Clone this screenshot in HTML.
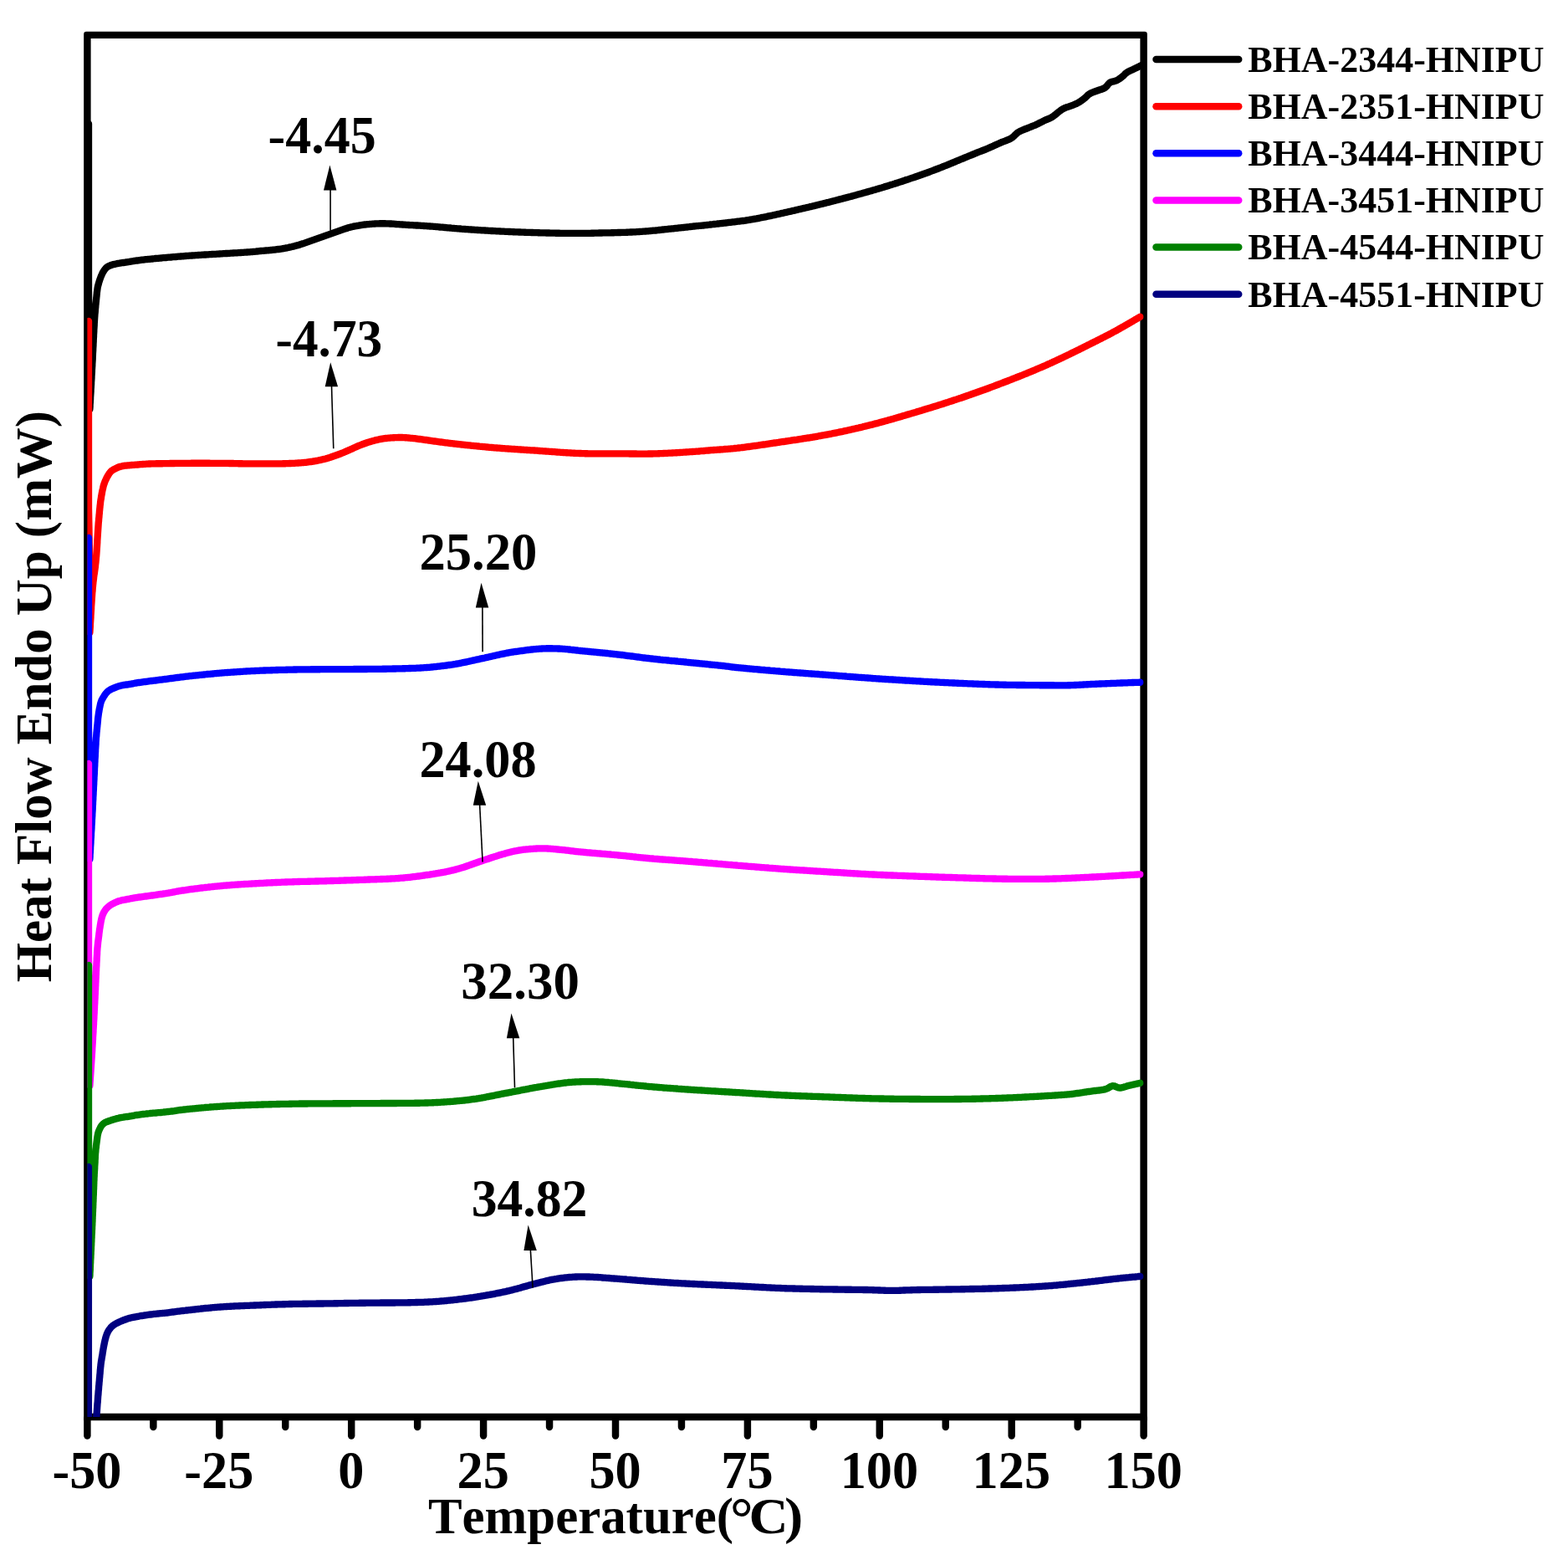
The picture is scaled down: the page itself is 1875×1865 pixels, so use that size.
<!DOCTYPE html>
<html lang="en">
<head>
<meta charset="utf-8">
<title>DSC heat flow curves of BHA HNIPU samples</title>
<style>
html,body{margin:0;padding:0;background:#fff;}
body{width:1875px;height:1865px;overflow:hidden;}
svg{display:block;}
text{font-family:'Liberation Serif',serif;font-weight:bold;fill:#000;font-kerning:none;font-variant-ligatures:none;}
.tick{font-size:62.30px;text-anchor:middle;}
.ann{font-size:62.30px;}
.leg{font-size:44.30px;}
.ttl{font-size:61.30px;}
.crv{fill:none;stroke-width:8.35;stroke-linecap:round;stroke-linejoin:round;}
.ax{fill:none;stroke:#000;stroke-width:8.45;stroke-linecap:round;stroke-linejoin:round;}
.arr{stroke:#000;stroke-width:1.6;fill:none;}
</style>
</head>
<body>
<svg width="1875" height="1865" viewBox="0 0 1875 1865">
<rect x="0" y="0" width="1875" height="1865" fill="#ffffff"/>
<defs><clipPath id="plot"><rect x="104.40" y="41.90" width="1263.20" height="1652.10"/></clipPath></defs>
<g class="ax">
<path fill="#000" stroke="none" fill-rule="evenodd" d="M100.18 1698.22 L100.18 40.67 Q100.18 37.67 103.18 37.67 L1368.82 37.67 Q1371.82 37.67 1371.82 40.67 L1371.82 1698.22 Z M108.62 46.12 L108.62 1689.78 L1363.38 1689.78 L1363.38 46.12 Z"/>
<line x1="104.40" y1="1695.50" x2="104.40" y2="1716.60"/>
<line x1="183.35" y1="1695.50" x2="183.35" y2="1705.90"/>
<line x1="262.30" y1="1695.50" x2="262.30" y2="1716.60"/>
<line x1="341.25" y1="1695.50" x2="341.25" y2="1705.90"/>
<line x1="420.20" y1="1695.50" x2="420.20" y2="1716.60"/>
<line x1="499.15" y1="1695.50" x2="499.15" y2="1705.90"/>
<line x1="578.10" y1="1695.50" x2="578.10" y2="1716.60"/>
<line x1="657.05" y1="1695.50" x2="657.05" y2="1705.90"/>
<line x1="736.00" y1="1695.50" x2="736.00" y2="1716.60"/>
<line x1="814.95" y1="1695.50" x2="814.95" y2="1705.90"/>
<line x1="893.90" y1="1695.50" x2="893.90" y2="1716.60"/>
<line x1="972.85" y1="1695.50" x2="972.85" y2="1705.90"/>
<line x1="1051.80" y1="1695.50" x2="1051.80" y2="1716.60"/>
<line x1="1130.75" y1="1695.50" x2="1130.75" y2="1705.90"/>
<line x1="1209.70" y1="1695.50" x2="1209.70" y2="1716.60"/>
<line x1="1288.65" y1="1695.50" x2="1288.65" y2="1705.90"/>
<line x1="1367.60" y1="1695.50" x2="1367.60" y2="1716.60"/>
</g>
<g clip-path="url(#plot)">
<path class="crv" stroke="#000000" d="M106.0 148.0 L106.0 352.6 L106.8 393.5 L107.4 489.0 L107.5 487.5 L107.6 486.0 L107.6 484.5 L107.7 483.0 L107.8 481.5 L107.9 480.0 L108.0 478.5 L108.1 477.0 L108.1 475.5 L108.2 474.0 L108.3 472.5 L108.4 471.0 L108.5 469.5 L108.6 468.0 L108.6 466.5 L108.7 465.0 L108.8 463.5 L108.9 462.0 L109.0 460.5 L109.1 459.0 L109.1 457.5 L109.2 456.0 L109.3 454.5 L109.4 453.1 L109.5 451.6 L109.5 450.1 L109.6 448.6 L109.7 447.1 L109.8 445.6 L109.9 444.1 L109.9 442.6 L110.0 441.1 L110.1 439.6 L110.2 438.1 L110.3 436.6 L110.3 435.1 L110.4 433.6 L110.5 432.1 L110.6 430.6 L110.7 429.1 L110.7 427.6 L110.8 426.1 L110.9 424.6 L110.9 423.1 L111.0 421.6 L111.1 420.1 L111.2 418.6 L111.2 417.1 L111.3 415.6 L111.4 414.1 L111.5 412.6 L111.5 411.1 L111.6 409.6 L111.7 408.1 L111.7 406.6 L111.8 405.1 L111.9 403.6 L112.0 402.1 L112.0 400.6 L112.1 399.1 L112.2 397.6 L112.3 396.1 L112.3 394.6 L112.4 393.1 L112.5 391.6 L112.6 390.1 L112.7 388.6 L112.7 387.1 L112.8 385.6 L112.9 384.1 L113.0 382.6 L113.1 381.1 L113.2 379.6 L113.3 378.1 L113.4 376.7 L113.5 375.2 L113.7 373.7 L113.8 372.2 L113.9 370.7 L114.0 369.2 L114.2 367.7 L114.3 366.2 L114.4 364.7 L114.6 363.2 L114.7 361.7 L114.9 360.2 L115.0 358.7 L115.2 357.2 L115.3 355.7 L115.5 354.2 L115.6 352.8 L115.8 351.3 L115.9 349.8 L116.1 348.3 L116.3 346.8 L116.5 345.3 L116.7 343.8 L117.0 342.4 L117.4 340.9 L117.8 339.5 L118.2 338.0 L118.6 336.6 L119.1 335.1 L119.6 333.7 L120.1 332.3 L120.6 330.9 L121.2 329.5 L121.8 328.2 L122.4 326.8 L123.1 325.5 L123.9 324.2 L124.7 322.9 L125.6 321.7 L126.5 320.7 L127.6 319.7 L128.8 318.8 L130.1 318.1 L131.5 317.5 L132.9 317.0 L134.3 316.5 L135.7 316.1 L137.2 315.8 L138.7 315.5 L140.1 315.2 L141.6 314.9 L143.1 314.7 L144.6 314.4 L146.1 314.2 L147.5 314.0 L149.0 313.8 L150.5 313.5 L152.0 313.3 L153.5 313.1 L155.0 312.9 L156.4 312.6 L157.9 312.4 L159.4 312.2 L160.9 311.9 L162.4 311.7 L163.9 311.5 L165.3 311.3 L166.8 311.1 L168.3 310.9 L169.8 310.7 L171.3 310.6 L172.8 310.4 L174.3 310.2 L175.8 310.1 L177.3 309.9 L178.8 309.8 L180.3 309.6 L181.7 309.5 L183.2 309.3 L184.7 309.2 L186.2 309.0 L187.7 308.9 L189.2 308.8 L190.7 308.6 L192.2 308.5 L193.7 308.3 L195.2 308.2 L196.7 308.1 L198.2 308.0 L199.7 307.8 L201.2 307.7 L202.7 307.6 L204.2 307.5 L205.6 307.3 L207.1 307.2 L208.6 307.1 L210.1 307.0 L211.6 306.8 L213.1 306.7 L214.6 306.6 L216.1 306.5 L217.6 306.4 L219.1 306.3 L220.6 306.1 L222.1 306.0 L223.6 305.9 L225.1 305.8 L226.6 305.7 L228.1 305.6 L229.6 305.5 L231.1 305.4 L232.6 305.3 L234.1 305.2 L235.6 305.1 L237.1 305.0 L238.6 304.9 L240.1 304.8 L241.6 304.7 L243.1 304.6 L244.6 304.5 L246.0 304.5 L247.5 304.4 L249.0 304.3 L250.5 304.2 L252.0 304.1 L253.5 304.0 L255.0 303.9 L256.5 303.8 L258.0 303.8 L259.5 303.7 L261.0 303.6 L262.5 303.5 L264.0 303.4 L265.5 303.3 L267.0 303.2 L268.5 303.1 L270.0 303.0 L271.5 303.0 L273.0 302.9 L274.5 302.8 L276.0 302.7 L277.5 302.6 L279.0 302.5 L280.5 302.4 L282.0 302.3 L283.5 302.3 L285.0 302.2 L286.5 302.1 L288.0 302.0 L289.5 301.9 L291.0 301.8 L292.5 301.7 L294.0 301.6 L295.5 301.5 L297.0 301.4 L298.5 301.3 L300.0 301.2 L301.5 301.1 L302.9 300.9 L304.4 300.8 L305.9 300.7 L307.4 300.5 L308.9 300.4 L310.4 300.2 L311.9 300.0 L313.4 299.9 L314.9 299.8 L316.4 299.6 L317.9 299.5 L319.4 299.4 L320.9 299.3 L322.4 299.1 L323.9 299.0 L325.4 298.9 L326.8 298.7 L328.3 298.6 L329.8 298.4 L331.3 298.2 L332.8 298.0 L334.3 297.8 L335.8 297.6 L337.3 297.4 L338.7 297.1 L340.2 296.8 L341.7 296.5 L343.1 296.3 L344.6 296.0 L346.1 295.6 L347.5 295.3 L349.0 295.0 L350.5 294.6 L351.9 294.3 L353.4 293.9 L354.8 293.5 L356.3 293.1 L357.7 292.7 L359.1 292.2 L360.6 291.8 L362.0 291.3 L363.4 290.9 L364.9 290.4 L366.3 289.9 L367.7 289.4 L369.1 288.9 L370.5 288.4 L371.9 287.9 L373.3 287.4 L374.8 286.9 L376.2 286.4 L377.6 285.9 L379.0 285.4 L380.4 284.9 L381.8 284.4 L383.3 283.9 L384.7 283.4 L386.1 282.9 L387.5 282.4 L388.9 281.9 L390.3 281.4 L391.7 280.9 L393.2 280.4 L394.6 279.9 L396.0 279.4 L397.4 278.9 L398.8 278.4 L400.2 277.9 L401.6 277.4 L403.1 276.9 L404.5 276.4 L405.9 275.9 L407.3 275.4 L408.7 274.9 L410.1 274.4 L411.5 273.9 L412.9 273.4 L414.4 273.0 L415.8 272.5 L417.2 272.1 L418.7 271.7 L420.1 271.3 L421.6 271.0 L423.1 270.6 L424.5 270.3 L426.0 270.1 L427.5 269.8 L429.0 269.6 L430.4 269.3 L431.9 269.1 L433.4 268.9 L434.9 268.7 L436.4 268.5 L437.9 268.4 L439.4 268.2 L440.9 268.1 L442.4 267.9 L443.9 267.8 L445.4 267.7 L446.8 267.6 L448.3 267.5 L449.8 267.4 L451.3 267.3 L452.8 267.3 L454.3 267.2 L455.8 267.2 L457.3 267.2 L458.8 267.2 L460.3 267.2 L461.8 267.3 L463.3 267.3 L464.8 267.4 L466.3 267.5 L467.8 267.5 L469.3 267.6 L470.8 267.7 L472.3 267.8 L473.8 268.0 L475.3 268.1 L476.8 268.2 L478.3 268.3 L479.8 268.4 L481.3 268.5 L482.8 268.6 L484.3 268.7 L485.8 268.8 L487.3 268.9 L488.8 269.0 L490.3 269.1 L491.8 269.1 L493.3 269.2 L494.8 269.3 L496.3 269.4 L497.8 269.5 L499.3 269.5 L500.8 269.6 L502.3 269.7 L503.8 269.8 L505.3 269.9 L506.8 270.0 L508.3 270.1 L509.8 270.2 L511.2 270.3 L512.7 270.4 L514.2 270.5 L515.7 270.6 L517.2 270.7 L518.7 270.8 L520.2 270.9 L521.7 271.1 L523.2 271.2 L524.7 271.3 L526.2 271.5 L527.7 271.6 L529.2 271.7 L530.7 271.9 L532.2 272.0 L533.7 272.1 L535.2 272.3 L536.7 272.4 L538.2 272.5 L539.7 272.7 L541.1 272.8 L542.6 272.9 L544.1 273.1 L545.6 273.2 L547.1 273.3 L548.6 273.4 L550.1 273.5 L551.6 273.7 L553.1 273.8 L554.6 273.9 L556.1 274.0 L557.6 274.1 L559.1 274.2 L560.6 274.3 L562.1 274.4 L563.6 274.5 L565.1 274.6 L566.6 274.7 L568.1 274.8 L569.6 274.9 L571.1 275.0 L572.6 275.1 L574.1 275.2 L575.6 275.3 L577.1 275.4 L578.6 275.4 L580.1 275.5 L581.5 275.6 L583.0 275.7 L584.5 275.8 L586.0 275.9 L587.5 276.0 L589.0 276.0 L590.5 276.1 L592.0 276.2 L593.5 276.3 L595.0 276.3 L596.5 276.4 L598.0 276.5 L599.5 276.6 L601.0 276.6 L602.5 276.7 L604.0 276.8 L605.5 276.8 L607.0 276.9 L608.5 277.0 L610.0 277.0 L611.5 277.1 L613.0 277.2 L614.5 277.2 L616.0 277.3 L617.5 277.3 L619.0 277.4 L620.5 277.5 L622.0 277.5 L623.5 277.6 L625.0 277.6 L626.5 277.7 L628.0 277.7 L629.5 277.8 L631.0 277.8 L632.5 277.9 L634.0 277.9 L635.5 278.0 L637.0 278.0 L638.5 278.1 L640.0 278.1 L641.5 278.1 L643.0 278.2 L644.5 278.2 L646.0 278.3 L647.5 278.3 L649.0 278.3 L650.5 278.4 L652.0 278.4 L653.5 278.5 L655.0 278.5 L656.5 278.5 L658.0 278.6 L659.5 278.6 L661.0 278.6 L662.5 278.6 L664.0 278.7 L665.5 278.7 L667.0 278.7 L668.5 278.7 L670.0 278.8 L671.5 278.8 L673.0 278.8 L674.5 278.8 L676.0 278.8 L677.5 278.9 L679.0 278.9 L680.5 278.9 L682.0 278.9 L683.5 278.9 L685.0 278.9 L686.5 278.9 L688.0 278.9 L689.5 278.9 L691.0 278.9 L692.5 278.9 L694.0 278.9 L695.5 278.9 L697.0 278.9 L698.5 278.9 L700.0 278.8 L701.5 278.8 L703.0 278.8 L704.5 278.8 L706.0 278.8 L707.5 278.7 L709.0 278.7 L710.5 278.7 L712.0 278.6 L713.5 278.6 L715.0 278.6 L716.5 278.5 L718.0 278.5 L719.5 278.5 L721.0 278.4 L722.5 278.4 L724.0 278.4 L725.5 278.4 L727.0 278.3 L728.5 278.3 L730.0 278.3 L731.5 278.2 L733.0 278.2 L734.5 278.2 L736.0 278.1 L737.5 278.1 L739.0 278.0 L740.5 278.0 L742.0 278.0 L743.5 277.9 L745.0 277.9 L746.5 277.8 L748.0 277.8 L749.5 277.7 L751.0 277.7 L752.5 277.6 L754.0 277.5 L755.5 277.5 L757.0 277.4 L758.5 277.3 L760.0 277.3 L761.5 277.2 L763.0 277.1 L764.5 277.0 L766.0 276.9 L767.5 276.8 L769.0 276.7 L770.5 276.6 L772.0 276.5 L773.4 276.4 L774.9 276.3 L776.4 276.1 L777.9 276.0 L779.4 275.9 L780.9 275.7 L782.4 275.6 L783.9 275.5 L785.4 275.3 L786.9 275.2 L788.4 275.0 L789.9 274.9 L791.4 274.7 L792.9 274.5 L794.4 274.4 L795.8 274.2 L797.3 274.1 L798.8 273.9 L800.3 273.7 L801.8 273.6 L803.3 273.4 L804.8 273.3 L806.3 273.1 L807.8 272.9 L809.3 272.8 L810.8 272.6 L812.3 272.4 L813.7 272.3 L815.2 272.1 L816.7 272.0 L818.2 271.8 L819.7 271.6 L821.2 271.5 L822.7 271.3 L824.2 271.2 L825.7 271.0 L827.2 270.9 L828.7 270.7 L830.2 270.5 L831.6 270.4 L833.1 270.2 L834.6 270.1 L836.1 269.9 L837.6 269.8 L839.1 269.6 L840.6 269.5 L842.1 269.3 L843.6 269.1 L845.1 269.0 L846.6 268.8 L848.1 268.7 L849.5 268.5 L851.0 268.3 L852.5 268.2 L854.0 268.0 L855.5 267.8 L857.0 267.7 L858.5 267.5 L860.0 267.3 L861.5 267.1 L863.0 267.0 L864.5 266.8 L865.9 266.6 L867.4 266.5 L868.9 266.3 L870.4 266.1 L871.9 265.9 L873.4 265.8 L874.9 265.6 L876.4 265.4 L877.9 265.3 L879.4 265.1 L880.8 264.9 L882.3 264.7 L883.8 264.6 L885.3 264.4 L886.8 264.2 L888.3 264.0 L889.8 263.8 L891.3 263.6 L892.7 263.3 L894.2 263.1 L895.7 262.9 L897.2 262.6 L898.7 262.4 L900.1 262.2 L901.6 261.9 L903.1 261.6 L904.6 261.4 L906.1 261.1 L907.5 260.8 L909.0 260.5 L910.5 260.2 L911.9 259.9 L913.4 259.7 L914.9 259.4 L916.4 259.1 L917.8 258.7 L919.3 258.4 L920.8 258.1 L922.2 257.8 L923.7 257.5 L925.2 257.2 L926.6 256.9 L928.1 256.5 L929.6 256.2 L931.0 255.9 L932.5 255.6 L933.9 255.2 L935.4 254.9 L936.9 254.6 L938.3 254.2 L939.8 253.9 L941.3 253.6 L942.7 253.2 L944.2 252.9 L945.6 252.6 L947.1 252.2 L948.6 251.9 L950.0 251.6 L951.5 251.2 L953.0 250.9 L954.4 250.5 L955.9 250.2 L957.3 249.9 L958.8 249.5 L960.3 249.2 L961.7 248.8 L963.2 248.5 L964.6 248.2 L966.1 247.8 L967.6 247.5 L969.0 247.1 L970.5 246.8 L971.9 246.4 L973.4 246.1 L974.9 245.7 L976.3 245.4 L977.8 245.0 L979.2 244.7 L980.7 244.3 L982.1 243.9 L983.6 243.6 L985.1 243.2 L986.5 242.9 L988.0 242.5 L989.4 242.1 L990.9 241.8 L992.3 241.4 L993.8 241.0 L995.2 240.7 L996.7 240.3 L998.1 239.9 L999.6 239.5 L1001.1 239.2 L1002.5 238.8 L1004.0 238.4 L1005.4 238.0 L1006.9 237.7 L1008.3 237.3 L1009.8 236.9 L1011.2 236.5 L1012.7 236.1 L1014.1 235.7 L1015.6 235.3 L1017.0 235.0 L1018.5 234.6 L1019.9 234.2 L1021.4 233.8 L1022.8 233.4 L1024.3 233.0 L1025.7 232.6 L1027.1 232.2 L1028.6 231.8 L1030.0 231.4 L1031.5 231.0 L1032.9 230.6 L1034.4 230.2 L1035.8 229.8 L1037.3 229.4 L1038.7 229.0 L1040.1 228.6 L1041.6 228.2 L1043.0 227.7 L1044.5 227.3 L1045.9 226.9 L1047.4 226.5 L1048.8 226.1 L1050.2 225.6 L1051.7 225.2 L1053.1 224.8 L1054.5 224.4 L1056.0 223.9 L1057.4 223.5 L1058.8 223.0 L1060.3 222.6 L1061.7 222.2 L1063.1 221.7 L1064.6 221.3 L1066.0 220.8 L1067.4 220.4 L1068.9 219.9 L1070.3 219.5 L1071.7 219.0 L1073.2 218.6 L1074.6 218.1 L1076.0 217.6 L1077.4 217.2 L1078.9 216.7 L1080.3 216.2 L1081.7 215.8 L1083.1 215.3 L1084.6 214.8 L1086.0 214.4 L1087.4 213.9 L1088.8 213.4 L1090.3 212.9 L1091.7 212.4 L1093.1 212.0 L1094.5 211.5 L1095.9 211.0 L1097.4 210.5 L1098.8 210.0 L1100.2 209.5 L1101.6 209.0 L1103.0 208.5 L1104.4 208.0 L1105.8 207.5 L1107.3 207.0 L1108.7 206.5 L1110.1 206.0 L1111.5 205.5 L1112.9 204.9 L1114.3 204.4 L1115.7 203.9 L1117.1 203.3 L1118.5 202.8 L1119.9 202.3 L1121.3 201.7 L1122.7 201.2 L1124.1 200.6 L1125.5 200.1 L1126.9 199.5 L1128.3 199.0 L1129.7 198.4 L1131.1 197.9 L1132.5 197.3 L1133.8 196.7 L1135.2 196.2 L1136.6 195.6 L1138.0 195.0 L1139.4 194.5 L1140.8 193.9 L1142.2 193.3 L1143.6 192.7 L1144.9 192.2 L1146.3 191.6 L1147.7 191.0 L1149.1 190.4 L1150.5 189.9 L1151.9 189.3 L1153.3 188.7 L1154.6 188.1 L1156.0 187.6 L1157.4 187.0 L1158.8 186.4 L1160.2 185.9 L1161.6 185.3 L1163.0 184.7 L1164.4 184.2 L1165.7 183.6 L1167.1 183.0 L1168.5 182.5 L1169.9 181.9 L1171.3 181.4 L1172.7 180.9 L1174.1 180.3 L1175.5 179.8 L1176.9 179.2 L1178.3 178.7 L1179.7 178.1 L1181.1 177.5 L1182.5 176.9 L1183.8 176.3 L1185.2 175.7 L1186.6 175.1 L1187.9 174.5 L1189.3 173.8 L1190.7 173.2 L1192.0 172.6 L1193.4 172.0 L1194.8 171.4 L1196.1 170.8 L1197.5 170.2 L1198.9 169.6 L1200.3 169.1 L1201.7 168.6 L1203.1 168.0 L1204.5 167.5 L1205.9 166.9 L1207.3 166.3 L1208.6 165.6 L1209.9 164.8 L1211.1 164.0 L1212.2 163.0 L1213.3 161.9 L1214.3 160.8 L1215.4 159.8 L1216.5 158.8 L1217.8 158.0 L1219.1 157.2 L1220.4 156.6 L1221.8 156.0 L1223.2 155.4 L1224.6 154.8 L1226.0 154.3 L1227.4 153.8 L1228.8 153.2 L1230.1 152.6 L1231.5 152.1 L1232.9 151.5 L1234.3 151.0 L1235.7 150.4 L1237.1 149.9 L1238.5 149.3 L1239.9 148.6 L1241.2 148.0 L1242.5 147.3 L1243.9 146.6 L1245.2 146.0 L1246.6 145.3 L1247.9 144.6 L1249.2 143.9 L1250.6 143.3 L1252.0 142.8 L1253.4 142.2 L1254.8 141.6 L1256.1 141.0 L1257.5 140.3 L1258.7 139.5 L1260.0 138.6 L1261.1 137.7 L1262.3 136.8 L1263.4 135.8 L1264.6 134.9 L1265.8 133.9 L1267.0 133.0 L1268.2 132.1 L1269.4 131.2 L1270.7 130.4 L1272.0 129.7 L1273.3 129.1 L1274.7 128.5 L1276.1 128.1 L1277.6 127.6 L1279.0 127.1 L1280.4 126.6 L1281.8 126.1 L1283.2 125.6 L1284.6 125.0 L1286.0 124.4 L1287.4 123.8 L1288.7 123.1 L1290.0 122.4 L1291.3 121.6 L1292.5 120.8 L1293.7 119.9 L1295.0 119.0 L1296.1 118.1 L1297.3 117.2 L1298.4 116.1 L1299.5 115.1 L1300.5 114.0 L1301.7 113.0 L1302.9 112.2 L1304.2 111.5 L1305.6 110.8 L1306.9 110.3 L1308.4 109.8 L1309.8 109.3 L1311.2 108.8 L1312.6 108.3 L1314.0 107.8 L1315.4 107.3 L1316.9 106.9 L1318.3 106.3 L1319.7 105.8 L1321.0 105.1 L1322.2 104.2 L1323.3 103.2 L1324.2 102.0 L1325.1 100.8 L1326.1 99.7 L1327.2 98.8 L1328.5 98.1 L1329.9 97.7 L1331.4 97.4 L1332.9 97.0 L1334.3 96.6 L1335.7 96.0 L1337.0 95.2 L1338.2 94.4 L1339.5 93.6 L1340.7 92.7 L1341.8 91.8 L1343.0 90.8 L1344.1 89.8 L1345.1 88.7 L1346.2 87.7 L1347.4 86.8 L1348.7 85.9 L1350.0 85.2 L1351.3 84.6 L1352.7 84.0 L1354.1 83.4 L1355.4 82.8 L1356.8 82.1 L1358.1 81.4 L1359.5 80.8 L1360.8 80.1 L1362.2 79.5 L1363.5 78.8 L1364.9 78.2 L1366.2 77.5 L1367.6 76.9"/>
<path class="crv" stroke="#ff0000" d="M106.0 384.0 L106.0 607.2 L106.8 651.8 L107.4 756.0 L107.5 754.5 L107.6 753.0 L107.7 751.5 L107.8 750.0 L107.9 748.5 L107.9 747.0 L108.0 745.5 L108.1 744.0 L108.2 742.5 L108.3 741.0 L108.4 739.5 L108.5 738.0 L108.5 736.5 L108.6 735.0 L108.7 733.5 L108.8 732.0 L108.9 730.5 L109.0 729.0 L109.1 727.5 L109.1 726.0 L109.2 724.5 L109.3 723.0 L109.4 721.6 L109.5 720.1 L109.6 718.6 L109.7 717.1 L109.8 715.6 L109.9 714.1 L110.0 712.6 L110.1 711.1 L110.2 709.6 L110.3 708.1 L110.5 706.6 L110.6 705.1 L110.7 703.6 L110.8 702.1 L111.0 700.6 L111.1 699.1 L111.3 697.6 L111.4 696.1 L111.6 694.6 L111.8 693.1 L112.0 691.7 L112.1 690.2 L112.3 688.7 L112.5 687.2 L112.8 685.7 L113.0 684.2 L113.2 682.7 L113.4 681.2 L113.6 679.8 L113.8 678.3 L114.0 676.8 L114.1 675.3 L114.3 673.8 L114.5 672.3 L114.6 670.8 L114.8 669.3 L114.9 667.8 L115.0 666.3 L115.2 664.8 L115.3 663.3 L115.4 661.9 L115.5 660.4 L115.6 658.9 L115.7 657.4 L115.8 655.9 L115.9 654.4 L116.0 652.9 L116.1 651.4 L116.2 649.9 L116.3 648.4 L116.3 646.9 L116.4 645.4 L116.5 643.9 L116.6 642.4 L116.7 640.9 L116.8 639.4 L116.9 637.9 L117.0 636.4 L117.1 634.9 L117.2 633.4 L117.3 631.9 L117.4 630.4 L117.5 628.9 L117.6 627.4 L117.7 625.9 L117.8 624.4 L118.0 622.9 L118.1 621.4 L118.2 619.9 L118.4 618.4 L118.5 617.0 L118.6 615.5 L118.8 614.0 L118.9 612.5 L119.0 611.0 L119.2 609.5 L119.3 608.0 L119.5 606.5 L119.6 605.0 L119.8 603.5 L120.0 602.0 L120.1 600.5 L120.3 599.0 L120.5 597.6 L120.8 596.1 L121.0 594.6 L121.2 593.1 L121.5 591.6 L121.8 590.2 L122.0 588.7 L122.3 587.2 L122.6 585.7 L123.0 584.3 L123.3 582.8 L123.6 581.4 L124.0 579.9 L124.5 578.5 L125.0 577.1 L125.5 575.7 L126.1 574.3 L126.8 572.9 L127.4 571.6 L128.1 570.3 L128.8 569.0 L129.6 567.7 L130.4 566.4 L131.2 565.2 L132.2 564.1 L133.2 563.0 L134.4 562.2 L135.7 561.4 L137.0 560.7 L138.3 560.1 L139.7 559.4 L141.0 558.8 L142.4 558.3 L143.9 557.8 L145.3 557.5 L146.8 557.2 L148.2 556.9 L149.7 556.7 L151.2 556.6 L152.7 556.4 L154.2 556.3 L155.7 556.1 L157.2 556.0 L158.7 555.9 L160.2 555.8 L161.7 555.7 L163.2 555.6 L164.7 555.5 L166.2 555.4 L167.7 555.2 L169.2 555.1 L170.7 555.0 L172.2 554.9 L173.7 554.8 L175.2 554.7 L176.7 554.6 L178.2 554.5 L179.6 554.5 L181.1 554.4 L182.6 554.3 L184.1 554.3 L185.6 554.3 L187.1 554.2 L188.6 554.2 L190.1 554.2 L191.6 554.2 L193.1 554.2 L194.6 554.2 L196.1 554.1 L197.6 554.1 L199.1 554.1 L200.6 554.1 L202.1 554.1 L203.6 554.0 L205.1 554.0 L206.6 554.0 L208.2 554.0 L209.7 553.9 L211.2 553.9 L212.7 553.9 L214.2 553.9 L215.7 553.8 L217.2 553.8 L218.7 553.8 L220.2 553.8 L221.7 553.8 L223.2 553.8 L224.7 553.8 L226.2 553.8 L227.7 553.8 L229.2 553.7 L230.7 553.7 L232.2 553.7 L233.7 553.7 L235.2 553.7 L236.7 553.7 L238.2 553.7 L239.7 553.7 L241.2 553.7 L242.7 553.7 L244.2 553.7 L245.7 553.7 L247.2 553.7 L248.7 553.7 L250.2 553.7 L251.7 553.8 L253.2 553.8 L254.7 553.8 L256.2 553.8 L257.7 553.8 L259.2 553.8 L260.7 553.8 L262.2 553.8 L263.7 553.8 L265.2 553.8 L266.7 553.9 L268.2 553.9 L269.7 553.9 L271.2 553.9 L272.7 553.9 L274.2 554.0 L275.7 554.0 L277.2 554.0 L278.7 554.0 L280.2 554.1 L281.7 554.1 L283.2 554.1 L284.7 554.2 L286.2 554.2 L287.7 554.2 L289.2 554.2 L290.7 554.3 L292.2 554.3 L293.7 554.3 L295.2 554.3 L296.7 554.3 L298.2 554.4 L299.7 554.4 L301.2 554.4 L302.7 554.4 L304.2 554.4 L305.7 554.4 L307.2 554.4 L308.7 554.4 L310.2 554.4 L311.7 554.4 L313.2 554.4 L314.7 554.4 L316.2 554.4 L317.7 554.4 L319.2 554.4 L320.7 554.4 L322.2 554.4 L323.7 554.4 L325.2 554.4 L326.7 554.4 L328.2 554.4 L329.7 554.4 L331.2 554.4 L332.7 554.3 L334.2 554.3 L335.7 554.3 L337.2 554.3 L338.7 554.2 L340.2 554.2 L341.7 554.2 L343.2 554.1 L344.7 554.1 L346.2 554.0 L347.7 554.0 L349.2 553.9 L350.7 553.9 L352.2 553.8 L353.7 553.7 L355.2 553.6 L356.7 553.5 L358.2 553.4 L359.7 553.3 L361.2 553.2 L362.6 553.1 L364.1 552.9 L365.6 552.8 L367.1 552.6 L368.6 552.4 L370.1 552.2 L371.6 552.0 L373.1 551.8 L374.5 551.5 L376.0 551.3 L377.5 551.0 L379.0 550.8 L380.5 550.5 L381.9 550.2 L383.4 549.9 L384.9 549.5 L386.3 549.2 L387.8 548.8 L389.2 548.5 L390.7 548.1 L392.1 547.6 L393.6 547.2 L395.0 546.8 L396.4 546.3 L397.8 545.8 L399.2 545.3 L400.7 544.8 L402.1 544.3 L403.5 543.8 L404.9 543.3 L406.3 542.7 L407.7 542.2 L409.1 541.6 L410.5 541.1 L411.9 540.5 L413.2 539.9 L414.6 539.3 L416.0 538.8 L417.4 538.1 L418.7 537.5 L420.1 536.9 L421.5 536.3 L422.8 535.6 L424.2 535.0 L425.6 534.4 L426.9 533.8 L428.3 533.2 L429.7 532.6 L431.1 532.1 L432.5 531.5 L433.9 531.0 L435.3 530.5 L436.7 530.0 L438.1 529.5 L439.6 529.0 L441.0 528.6 L442.4 528.1 L443.9 527.7 L445.3 527.3 L446.7 526.9 L448.2 526.5 L449.6 526.1 L451.1 525.8 L452.6 525.5 L454.0 525.2 L455.5 524.9 L457.0 524.6 L458.5 524.4 L460.0 524.2 L461.4 524.0 L462.9 523.8 L464.4 523.7 L465.9 523.6 L467.4 523.4 L468.9 523.3 L470.4 523.2 L471.9 523.2 L473.4 523.1 L474.9 523.1 L476.4 523.0 L477.9 523.0 L479.4 523.0 L480.9 523.0 L482.4 523.1 L483.9 523.2 L485.4 523.2 L486.9 523.4 L488.4 523.5 L489.9 523.6 L491.4 523.8 L492.9 523.9 L494.4 524.1 L495.9 524.2 L497.3 524.4 L498.8 524.6 L500.3 524.8 L501.8 525.0 L503.3 525.2 L504.8 525.4 L506.3 525.6 L507.8 525.8 L509.2 526.0 L510.7 526.2 L512.2 526.5 L513.7 526.7 L515.2 526.9 L516.7 527.1 L518.2 527.3 L519.6 527.5 L521.1 527.7 L522.6 527.9 L524.1 528.1 L525.6 528.3 L527.1 528.5 L528.6 528.7 L530.1 528.9 L531.5 529.1 L533.0 529.3 L534.5 529.4 L536.0 529.6 L537.5 529.8 L539.0 530.0 L540.5 530.1 L542.0 530.3 L543.5 530.5 L545.0 530.6 L546.4 530.8 L547.9 531.0 L549.4 531.1 L550.9 531.3 L552.4 531.5 L553.9 531.6 L555.4 531.8 L556.9 532.0 L558.4 532.1 L559.9 532.3 L561.4 532.4 L562.9 532.6 L564.3 532.8 L565.8 532.9 L567.3 533.1 L568.8 533.2 L570.3 533.4 L571.8 533.5 L573.3 533.7 L574.8 533.8 L576.3 533.9 L577.8 534.1 L579.3 534.2 L580.8 534.4 L582.3 534.5 L583.8 534.6 L585.3 534.8 L586.7 534.9 L588.2 535.0 L589.7 535.1 L591.2 535.3 L592.7 535.4 L594.2 535.5 L595.7 535.6 L597.2 535.7 L598.7 535.9 L600.2 536.0 L601.7 536.1 L603.2 536.2 L604.7 536.3 L606.2 536.4 L607.7 536.5 L609.2 536.6 L610.7 536.7 L612.2 536.8 L613.7 536.9 L615.2 537.0 L616.7 537.1 L618.2 537.2 L619.7 537.3 L621.2 537.4 L622.7 537.5 L624.2 537.6 L625.7 537.7 L627.2 537.8 L628.7 537.9 L630.1 538.0 L631.6 538.1 L633.1 538.2 L634.6 538.3 L636.1 538.3 L637.6 538.4 L639.1 538.5 L640.6 538.6 L642.1 538.7 L643.6 538.9 L645.1 539.0 L646.6 539.1 L648.1 539.2 L649.6 539.3 L651.1 539.4 L652.6 539.5 L654.1 539.6 L655.6 539.7 L657.1 539.8 L658.6 539.9 L660.1 540.0 L661.6 540.1 L663.1 540.2 L664.6 540.4 L666.1 540.5 L667.6 540.6 L669.1 540.7 L670.6 540.8 L672.1 540.9 L673.6 541.0 L675.1 541.1 L676.5 541.2 L678.0 541.2 L679.5 541.3 L681.0 541.4 L682.5 541.5 L684.0 541.6 L685.5 541.7 L687.0 541.7 L688.5 541.8 L690.0 541.9 L691.5 541.9 L693.0 542.0 L694.5 542.0 L696.0 542.1 L697.5 542.1 L699.0 542.2 L700.5 542.2 L702.0 542.2 L703.5 542.3 L705.0 542.3 L706.5 542.3 L708.0 542.3 L709.5 542.3 L711.0 542.4 L712.5 542.4 L714.0 542.4 L715.5 542.4 L717.0 542.4 L718.5 542.4 L720.0 542.4 L721.5 542.4 L723.0 542.4 L724.5 542.4 L726.0 542.4 L727.5 542.4 L729.0 542.4 L730.5 542.4 L732.0 542.4 L733.5 542.4 L735.0 542.4 L736.5 542.4 L738.0 542.4 L739.5 542.4 L741.0 542.4 L742.5 542.4 L744.0 542.4 L745.5 542.4 L747.0 542.4 L748.5 542.4 L750.0 542.4 L751.5 542.4 L753.0 542.5 L754.5 542.5 L756.0 542.5 L757.5 542.5 L759.0 542.5 L760.5 542.5 L762.0 542.6 L763.5 542.6 L765.0 542.6 L766.5 542.6 L768.0 542.6 L769.5 542.6 L771.0 542.6 L772.5 542.6 L774.0 542.6 L775.5 542.5 L777.0 542.5 L778.5 542.5 L780.0 542.5 L781.5 542.4 L783.0 542.4 L784.5 542.3 L786.0 542.3 L787.5 542.2 L789.0 542.2 L790.5 542.1 L792.0 542.1 L793.5 542.0 L795.0 541.9 L796.5 541.9 L798.0 541.8 L799.5 541.7 L801.0 541.6 L802.5 541.6 L804.0 541.5 L805.5 541.4 L807.0 541.3 L808.5 541.2 L810.0 541.2 L811.5 541.1 L813.0 541.0 L814.5 540.9 L816.0 540.8 L817.5 540.7 L819.0 540.6 L820.5 540.5 L822.0 540.4 L823.5 540.3 L825.0 540.2 L826.5 540.1 L828.0 540.0 L829.5 539.9 L831.0 539.8 L832.5 539.7 L834.0 539.6 L835.5 539.5 L837.0 539.3 L838.5 539.2 L840.0 539.1 L841.5 539.0 L843.0 538.8 L844.4 538.7 L845.9 538.6 L847.4 538.5 L848.9 538.4 L850.4 538.2 L851.9 538.1 L853.4 538.0 L854.9 537.9 L856.4 537.8 L857.9 537.7 L859.4 537.6 L860.9 537.5 L862.4 537.4 L863.9 537.3 L865.4 537.2 L866.9 537.0 L868.4 536.9 L869.9 536.8 L871.4 536.7 L872.9 536.6 L874.4 536.4 L875.9 536.3 L877.4 536.2 L878.8 536.0 L880.3 535.8 L881.8 535.7 L883.3 535.5 L884.8 535.3 L886.3 535.2 L887.8 535.0 L889.3 534.8 L890.8 534.6 L892.3 534.4 L893.7 534.2 L895.2 534.0 L896.7 533.8 L898.2 533.6 L899.7 533.4 L901.2 533.2 L902.7 533.0 L904.1 532.8 L905.6 532.6 L907.1 532.4 L908.6 532.1 L910.1 531.9 L911.6 531.7 L913.1 531.5 L914.5 531.3 L916.0 531.1 L917.5 530.8 L919.0 530.6 L920.5 530.4 L922.0 530.2 L923.4 530.0 L924.9 529.7 L926.4 529.5 L927.9 529.3 L929.4 529.1 L930.9 528.9 L932.4 528.6 L933.8 528.4 L935.3 528.2 L936.8 528.0 L938.3 527.8 L939.8 527.5 L941.3 527.3 L942.7 527.1 L944.2 526.9 L945.7 526.7 L947.2 526.4 L948.7 526.2 L950.2 526.0 L951.6 525.8 L953.1 525.6 L954.6 525.3 L956.1 525.1 L957.6 524.9 L959.1 524.7 L960.5 524.4 L962.0 524.2 L963.5 524.0 L965.0 523.7 L966.5 523.5 L968.0 523.3 L969.4 523.0 L970.9 522.8 L972.4 522.5 L973.9 522.3 L975.4 522.0 L976.8 521.8 L978.3 521.5 L979.8 521.2 L981.3 521.0 L982.7 520.7 L984.2 520.4 L985.7 520.2 L987.2 519.9 L988.6 519.6 L990.1 519.3 L991.6 519.0 L993.1 518.8 L994.5 518.5 L996.0 518.2 L997.5 517.9 L998.9 517.6 L1000.4 517.3 L1001.9 517.0 L1003.4 516.7 L1004.8 516.4 L1006.3 516.1 L1007.8 515.8 L1009.2 515.4 L1010.7 515.1 L1012.2 514.8 L1013.6 514.5 L1015.1 514.2 L1016.6 513.8 L1018.0 513.5 L1019.5 513.2 L1020.9 512.8 L1022.4 512.5 L1023.9 512.2 L1025.3 511.8 L1026.8 511.5 L1028.3 511.1 L1029.7 510.8 L1031.2 510.5 L1032.6 510.1 L1034.1 509.7 L1035.5 509.4 L1037.0 509.0 L1038.5 508.7 L1039.9 508.3 L1041.4 507.9 L1042.8 507.6 L1044.3 507.2 L1045.7 506.8 L1047.2 506.4 L1048.6 506.1 L1050.1 505.7 L1051.5 505.3 L1053.0 504.9 L1054.4 504.5 L1055.9 504.1 L1057.3 503.7 L1058.8 503.3 L1060.2 502.9 L1061.7 502.5 L1063.1 502.1 L1064.6 501.7 L1066.0 501.3 L1067.4 500.9 L1068.9 500.5 L1070.3 500.1 L1071.8 499.6 L1073.2 499.2 L1074.6 498.8 L1076.1 498.4 L1077.5 498.0 L1079.0 497.5 L1080.4 497.1 L1081.8 496.7 L1083.3 496.3 L1084.7 495.8 L1086.2 495.4 L1087.6 495.0 L1089.0 494.6 L1090.5 494.1 L1091.9 493.7 L1093.4 493.3 L1094.8 492.9 L1096.2 492.4 L1097.7 492.0 L1099.1 491.6 L1100.5 491.1 L1102.0 490.7 L1103.4 490.3 L1104.8 489.8 L1106.3 489.4 L1107.7 488.9 L1109.2 488.5 L1110.6 488.1 L1112.0 487.6 L1113.5 487.2 L1114.9 486.7 L1116.3 486.3 L1117.8 485.9 L1119.2 485.4 L1120.6 485.0 L1122.1 484.5 L1123.5 484.1 L1124.9 483.6 L1126.3 483.2 L1127.8 482.7 L1129.2 482.2 L1130.6 481.8 L1132.1 481.3 L1133.5 480.9 L1134.9 480.4 L1136.3 479.9 L1137.8 479.5 L1139.2 479.0 L1140.6 478.5 L1142.0 478.1 L1143.5 477.6 L1144.9 477.1 L1146.3 476.6 L1147.7 476.1 L1149.2 475.7 L1150.6 475.2 L1152.0 474.7 L1153.4 474.2 L1154.8 473.7 L1156.2 473.2 L1157.7 472.7 L1159.1 472.3 L1160.5 471.8 L1161.9 471.3 L1163.3 470.8 L1164.7 470.3 L1166.2 469.8 L1167.6 469.3 L1169.0 468.8 L1170.4 468.3 L1171.8 467.8 L1173.2 467.3 L1174.6 466.7 L1176.1 466.2 L1177.5 465.7 L1178.9 465.2 L1180.3 464.7 L1181.7 464.2 L1183.1 463.7 L1184.5 463.1 L1185.9 462.6 L1187.3 462.1 L1188.7 461.6 L1190.1 461.0 L1191.5 460.5 L1192.9 460.0 L1194.3 459.5 L1195.7 458.9 L1197.1 458.4 L1198.5 457.9 L1199.9 457.3 L1201.3 456.8 L1202.7 456.2 L1204.1 455.7 L1205.5 455.2 L1206.9 454.6 L1208.3 454.1 L1209.7 453.5 L1211.1 453.0 L1212.5 452.4 L1213.9 451.9 L1215.3 451.3 L1216.7 450.8 L1218.1 450.2 L1219.5 449.7 L1220.9 449.1 L1222.3 448.6 L1223.7 448.0 L1225.1 447.4 L1226.5 446.9 L1227.9 446.3 L1229.3 445.7 L1230.6 445.2 L1232.0 444.6 L1233.4 444.0 L1234.8 443.5 L1236.2 442.9 L1237.6 442.3 L1238.9 441.7 L1240.3 441.1 L1241.7 440.5 L1243.1 439.9 L1244.5 439.4 L1245.8 438.8 L1247.2 438.2 L1248.6 437.6 L1250.0 437.0 L1251.3 436.4 L1252.7 435.7 L1254.1 435.1 L1255.5 434.5 L1256.8 433.9 L1258.2 433.3 L1259.6 432.6 L1260.9 432.0 L1262.3 431.4 L1263.6 430.8 L1265.0 430.1 L1266.4 429.5 L1267.7 428.8 L1269.1 428.2 L1270.4 427.6 L1271.8 426.9 L1273.1 426.3 L1274.5 425.6 L1275.8 425.0 L1277.2 424.3 L1278.5 423.7 L1279.9 423.0 L1281.2 422.3 L1282.6 421.7 L1283.9 421.0 L1285.3 420.4 L1286.6 419.7 L1288.0 419.0 L1289.3 418.4 L1290.7 417.7 L1292.0 417.0 L1293.3 416.4 L1294.7 415.7 L1296.0 415.0 L1297.4 414.4 L1298.7 413.7 L1300.1 413.0 L1301.4 412.3 L1302.7 411.7 L1304.1 411.0 L1305.4 410.3 L1306.8 409.7 L1308.1 409.0 L1309.5 408.3 L1310.8 407.7 L1312.1 407.0 L1313.5 406.3 L1314.8 405.6 L1316.2 405.0 L1317.5 404.3 L1318.8 403.6 L1320.2 402.9 L1321.5 402.2 L1322.8 401.5 L1324.2 400.9 L1325.5 400.2 L1326.8 399.5 L1328.2 398.8 L1329.5 398.1 L1330.8 397.3 L1332.1 396.6 L1333.4 395.9 L1334.8 395.2 L1336.1 394.5 L1337.4 393.7 L1338.7 393.0 L1340.0 392.3 L1341.3 391.5 L1342.6 390.8 L1343.9 390.1 L1345.2 389.3 L1346.5 388.6 L1347.8 387.8 L1349.1 387.1 L1350.4 386.3 L1351.7 385.6 L1353.0 384.8 L1354.3 384.1 L1355.6 383.3 L1356.9 382.5 L1358.2 381.8 L1359.5 381.0 L1360.8 380.3 L1362.1 379.5 L1363.4 378.8"/>
<path class="crv" stroke="#0000ff" d="M106.0 643.0 L106.0 873.4 L106.8 919.5 L107.4 1027.0 L107.5 1025.5 L107.6 1024.0 L107.6 1022.5 L107.7 1021.0 L107.8 1019.5 L107.9 1018.0 L108.0 1016.5 L108.1 1015.0 L108.1 1013.5 L108.2 1012.0 L108.3 1010.5 L108.4 1009.0 L108.5 1007.5 L108.5 1006.0 L108.6 1004.5 L108.7 1003.0 L108.8 1001.5 L108.9 1000.0 L109.0 998.5 L109.0 997.0 L109.1 995.5 L109.2 994.0 L109.3 992.6 L109.4 991.1 L109.5 989.6 L109.5 988.1 L109.6 986.6 L109.7 985.1 L109.8 983.6 L109.9 982.1 L109.9 980.6 L110.0 979.1 L110.1 977.6 L110.2 976.1 L110.3 974.6 L110.3 973.1 L110.4 971.6 L110.5 970.1 L110.6 968.6 L110.7 967.1 L110.7 965.6 L110.8 964.1 L110.9 962.6 L111.0 961.1 L111.0 959.6 L111.1 958.1 L111.2 956.6 L111.3 955.1 L111.3 953.6 L111.4 952.1 L111.5 950.6 L111.6 949.1 L111.6 947.6 L111.7 946.1 L111.8 944.6 L111.9 943.1 L111.9 941.6 L112.0 940.1 L112.1 938.6 L112.2 937.1 L112.2 935.6 L112.3 934.1 L112.4 932.6 L112.5 931.1 L112.5 929.6 L112.6 928.1 L112.7 926.6 L112.8 925.1 L112.8 923.6 L112.9 922.1 L113.0 920.6 L113.0 919.1 L113.1 917.6 L113.2 916.1 L113.3 914.6 L113.3 913.2 L113.4 911.7 L113.5 910.2 L113.5 908.7 L113.6 907.2 L113.7 905.7 L113.8 904.2 L113.8 902.7 L113.9 901.2 L114.0 899.7 L114.1 898.2 L114.1 896.7 L114.2 895.2 L114.3 893.7 L114.4 892.2 L114.5 890.7 L114.6 889.2 L114.6 887.7 L114.7 886.2 L114.8 884.7 L114.9 883.2 L115.0 881.7 L115.2 880.2 L115.3 878.7 L115.4 877.2 L115.5 875.7 L115.7 874.2 L115.8 872.7 L116.0 871.2 L116.1 869.7 L116.3 868.3 L116.4 866.8 L116.6 865.3 L116.7 863.8 L116.9 862.3 L117.0 860.8 L117.1 859.3 L117.3 857.8 L117.5 856.3 L117.7 854.8 L117.9 853.3 L118.1 851.9 L118.4 850.4 L118.6 848.9 L118.9 847.4 L119.2 846.0 L119.5 844.5 L119.8 843.0 L120.1 841.6 L120.5 840.1 L121.0 838.7 L121.5 837.3 L122.2 836.0 L122.9 834.7 L123.7 833.4 L124.5 832.1 L125.3 830.9 L126.1 829.6 L127.1 828.5 L128.1 827.4 L129.1 826.4 L130.3 825.5 L131.6 824.7 L132.9 824.0 L134.2 823.4 L135.6 822.8 L137.0 822.3 L138.4 821.7 L139.8 821.1 L141.2 820.6 L142.6 820.2 L144.1 819.8 L145.5 819.4 L147.0 819.2 L148.5 818.9 L150.0 818.7 L151.4 818.5 L152.9 818.3 L154.4 818.0 L155.9 817.8 L157.4 817.5 L158.8 817.3 L160.3 817.0 L161.8 816.7 L163.3 816.5 L164.7 816.2 L166.2 816.0 L167.7 815.8 L169.2 815.6 L170.7 815.4 L172.2 815.2 L173.7 815.0 L175.1 814.8 L176.6 814.6 L178.1 814.4 L179.6 814.2 L181.1 814.0 L182.6 813.8 L184.1 813.6 L185.6 813.5 L187.0 813.3 L188.5 813.1 L190.0 812.9 L191.5 812.7 L193.0 812.6 L194.5 812.4 L196.0 812.2 L197.5 812.0 L199.0 811.8 L200.4 811.6 L201.9 811.4 L203.4 811.2 L204.9 811.0 L206.4 810.8 L207.9 810.6 L209.4 810.4 L210.9 810.2 L212.3 810.0 L213.8 809.8 L215.3 809.6 L216.8 809.4 L218.3 809.3 L219.8 809.1 L221.3 808.9 L222.8 808.7 L224.2 808.6 L225.7 808.4 L227.2 808.2 L228.7 808.1 L230.2 807.9 L231.7 807.7 L233.2 807.6 L234.7 807.4 L236.2 807.3 L237.7 807.1 L239.2 806.9 L240.7 806.8 L242.1 806.6 L243.6 806.5 L245.1 806.3 L246.6 806.2 L248.1 806.0 L249.6 805.9 L251.1 805.8 L252.6 805.6 L254.1 805.5 L255.6 805.3 L257.1 805.2 L258.6 805.1 L260.1 804.9 L261.6 804.8 L263.1 804.7 L264.5 804.6 L266.0 804.4 L267.5 804.3 L269.0 804.2 L270.5 804.1 L272.0 804.0 L273.5 803.9 L275.0 803.8 L276.5 803.7 L278.0 803.6 L279.5 803.5 L281.0 803.4 L282.5 803.3 L284.0 803.2 L285.5 803.1 L287.0 803.0 L288.5 802.9 L290.0 802.8 L291.5 802.7 L293.0 802.6 L294.5 802.5 L296.0 802.4 L297.5 802.4 L299.0 802.3 L300.5 802.2 L302.0 802.1 L303.5 802.1 L305.0 802.0 L306.5 801.9 L308.0 801.8 L309.5 801.8 L311.0 801.7 L312.5 801.6 L314.0 801.6 L315.5 801.5 L317.0 801.5 L318.5 801.4 L320.0 801.4 L321.5 801.3 L323.0 801.3 L324.5 801.2 L326.0 801.2 L327.5 801.1 L328.9 801.1 L330.4 801.0 L331.9 801.0 L333.4 800.9 L334.9 800.9 L336.4 800.9 L337.9 800.8 L339.4 800.8 L340.9 800.8 L342.4 800.7 L343.9 800.7 L345.4 800.6 L346.9 800.6 L348.4 800.6 L349.9 800.6 L351.4 800.5 L352.9 800.5 L354.4 800.5 L355.9 800.4 L357.4 800.4 L358.9 800.4 L360.4 800.4 L361.9 800.4 L363.4 800.3 L364.9 800.3 L366.4 800.3 L367.9 800.3 L369.4 800.3 L370.9 800.3 L372.4 800.2 L373.9 800.2 L375.4 800.2 L376.9 800.2 L378.4 800.2 L379.9 800.2 L381.4 800.2 L382.9 800.2 L384.4 800.1 L385.9 800.1 L387.4 800.1 L388.9 800.1 L390.4 800.1 L391.9 800.1 L393.4 800.1 L394.9 800.1 L396.4 800.1 L397.9 800.1 L399.4 800.1 L400.9 800.1 L402.4 800.1 L403.9 800.1 L405.4 800.1 L406.9 800.1 L408.4 800.1 L409.9 800.1 L411.4 800.1 L412.9 800.1 L414.4 800.1 L415.9 800.1 L417.4 800.1 L418.9 800.1 L420.4 800.1 L421.9 800.1 L423.4 800.0 L424.9 800.0 L426.4 800.0 L427.9 800.0 L429.4 800.0 L430.9 800.0 L432.4 800.0 L433.9 800.0 L435.4 800.0 L436.9 800.0 L438.4 800.0 L439.9 799.9 L441.4 799.9 L442.9 799.9 L444.4 799.9 L445.9 799.9 L447.4 799.9 L448.9 799.9 L450.4 799.8 L451.9 799.8 L453.4 799.8 L454.9 799.8 L456.4 799.8 L457.9 799.7 L459.4 799.7 L460.9 799.7 L462.4 799.7 L463.9 799.6 L465.4 799.6 L466.9 799.6 L468.4 799.6 L469.9 799.5 L471.4 799.5 L472.9 799.5 L474.4 799.4 L475.9 799.4 L477.4 799.4 L478.9 799.3 L480.4 799.3 L481.9 799.2 L483.4 799.2 L484.9 799.2 L486.4 799.1 L487.9 799.1 L489.4 799.0 L490.9 799.0 L492.4 798.9 L493.9 798.9 L495.4 798.8 L496.9 798.8 L498.4 798.7 L499.9 798.6 L501.4 798.6 L502.9 798.5 L504.4 798.4 L505.9 798.3 L507.4 798.2 L508.9 798.1 L510.4 798.0 L511.9 797.9 L513.4 797.8 L514.9 797.6 L516.4 797.5 L517.9 797.4 L519.4 797.2 L520.9 797.1 L522.4 796.9 L523.8 796.7 L525.3 796.6 L526.8 796.4 L528.3 796.2 L529.8 796.0 L531.3 795.9 L532.8 795.7 L534.3 795.5 L535.8 795.2 L537.2 795.0 L538.7 794.8 L540.2 794.6 L541.7 794.4 L543.2 794.1 L544.6 793.9 L546.1 793.6 L547.6 793.3 L549.1 793.1 L550.5 792.8 L552.0 792.5 L553.5 792.2 L555.0 791.9 L556.4 791.6 L557.9 791.3 L559.4 791.0 L560.8 790.7 L562.3 790.3 L563.8 790.0 L565.2 789.7 L566.7 789.4 L568.1 789.0 L569.6 788.7 L571.1 788.4 L572.5 788.1 L574.0 787.7 L575.5 787.4 L576.9 787.1 L578.4 786.8 L579.9 786.5 L581.3 786.1 L582.8 785.8 L584.3 785.5 L585.7 785.2 L587.2 784.8 L588.7 784.5 L590.1 784.2 L591.6 783.8 L593.0 783.5 L594.5 783.2 L596.0 782.9 L597.4 782.5 L598.9 782.2 L600.4 781.9 L601.8 781.6 L603.3 781.3 L604.8 781.0 L606.3 780.7 L607.7 780.5 L609.2 780.2 L610.7 779.9 L612.2 779.7 L613.6 779.5 L615.1 779.2 L616.6 779.0 L618.1 778.8 L619.6 778.6 L621.1 778.4 L622.6 778.2 L624.0 778.0 L625.5 777.8 L627.0 777.6 L628.5 777.4 L630.0 777.2 L631.5 777.0 L633.0 776.9 L634.5 776.7 L636.0 776.5 L637.4 776.4 L638.9 776.2 L640.4 776.1 L641.9 775.9 L643.4 775.8 L644.9 775.7 L646.4 775.6 L647.9 775.5 L649.4 775.4 L650.9 775.3 L652.4 775.3 L653.9 775.2 L655.4 775.2 L656.9 775.2 L658.4 775.2 L659.9 775.2 L661.4 775.3 L662.9 775.3 L664.4 775.3 L665.9 775.4 L667.4 775.5 L668.9 775.5 L670.4 775.6 L671.9 775.7 L673.4 775.8 L674.9 775.9 L676.4 776.1 L677.9 776.2 L679.4 776.3 L680.9 776.5 L682.3 776.7 L683.8 776.8 L685.3 777.0 L686.8 777.2 L688.3 777.4 L689.8 777.5 L691.3 777.7 L692.8 777.8 L694.3 778.0 L695.8 778.1 L697.3 778.3 L698.7 778.4 L700.2 778.6 L701.7 778.7 L703.2 778.9 L704.7 779.0 L706.2 779.1 L707.7 779.3 L709.2 779.4 L710.7 779.6 L712.2 779.7 L713.7 779.8 L715.2 780.0 L716.7 780.1 L718.2 780.3 L719.7 780.4 L721.1 780.6 L722.6 780.7 L724.1 780.9 L725.6 781.0 L727.1 781.2 L728.6 781.3 L730.1 781.5 L731.6 781.6 L733.1 781.8 L734.6 782.0 L736.1 782.1 L737.6 782.3 L739.0 782.5 L740.5 782.6 L742.0 782.8 L743.5 783.0 L745.0 783.2 L746.5 783.4 L748.0 783.6 L749.5 783.8 L751.0 784.0 L752.4 784.1 L753.9 784.3 L755.4 784.5 L756.9 784.7 L758.4 784.9 L759.9 785.1 L761.4 785.3 L762.9 785.5 L764.3 785.7 L765.8 785.9 L767.3 786.1 L768.8 786.3 L770.3 786.5 L771.8 786.7 L773.3 786.9 L774.8 787.0 L776.2 787.2 L777.7 787.4 L779.2 787.5 L780.7 787.7 L782.2 787.9 L783.7 788.0 L785.2 788.2 L786.7 788.4 L788.2 788.5 L789.7 788.7 L791.2 788.8 L792.7 789.0 L794.1 789.1 L795.6 789.2 L797.1 789.4 L798.6 789.5 L800.1 789.7 L801.6 789.8 L803.1 790.0 L804.6 790.1 L806.1 790.2 L807.6 790.4 L809.1 790.5 L810.6 790.7 L812.1 790.8 L813.6 790.9 L815.1 791.1 L816.5 791.2 L818.0 791.4 L819.5 791.5 L821.0 791.7 L822.5 791.8 L824.0 792.0 L825.5 792.1 L827.0 792.3 L828.5 792.4 L830.0 792.6 L831.5 792.7 L833.0 792.9 L834.5 793.0 L836.0 793.1 L837.4 793.3 L838.9 793.4 L840.4 793.6 L841.9 793.7 L843.4 793.9 L844.9 794.0 L846.4 794.2 L847.9 794.3 L849.4 794.5 L850.9 794.6 L852.4 794.8 L853.9 794.9 L855.4 795.1 L856.8 795.2 L858.3 795.4 L859.8 795.6 L861.3 795.7 L862.8 795.9 L864.3 796.0 L865.8 796.2 L867.3 796.4 L868.8 796.6 L870.3 796.7 L871.8 796.9 L873.2 797.1 L874.7 797.3 L876.2 797.5 L877.7 797.6 L879.2 797.8 L880.7 798.0 L882.2 798.1 L883.7 798.3 L885.2 798.4 L886.7 798.6 L888.2 798.7 L889.6 798.9 L891.1 799.0 L892.6 799.1 L894.1 799.3 L895.6 799.4 L897.1 799.6 L898.6 799.7 L900.1 799.8 L901.6 800.0 L903.1 800.1 L904.6 800.2 L906.1 800.4 L907.6 800.5 L909.1 800.6 L910.6 800.8 L912.1 800.9 L913.6 801.0 L915.0 801.2 L916.5 801.3 L918.0 801.4 L919.5 801.5 L921.0 801.7 L922.5 801.8 L924.0 801.9 L925.5 802.0 L927.0 802.2 L928.5 802.3 L930.0 802.4 L931.5 802.5 L933.0 802.7 L934.5 802.8 L936.0 802.9 L937.5 803.0 L939.0 803.2 L940.5 803.3 L942.0 803.4 L943.4 803.5 L944.9 803.6 L946.4 803.7 L947.9 803.9 L949.4 804.0 L950.9 804.1 L952.4 804.2 L953.9 804.3 L955.4 804.4 L956.9 804.5 L958.4 804.6 L959.9 804.7 L961.4 804.9 L962.9 805.0 L964.4 805.1 L965.9 805.2 L967.4 805.3 L968.9 805.4 L970.4 805.5 L971.9 805.6 L973.4 805.7 L974.9 805.8 L976.4 805.9 L977.9 806.0 L979.4 806.2 L980.8 806.3 L982.3 806.4 L983.8 806.5 L985.3 806.6 L986.8 806.7 L988.3 806.8 L989.8 806.9 L991.3 807.1 L992.8 807.2 L994.3 807.3 L995.8 807.4 L997.3 807.5 L998.8 807.6 L1000.3 807.7 L1001.8 807.8 L1003.3 808.0 L1004.8 808.1 L1006.3 808.2 L1007.8 808.3 L1009.3 808.4 L1010.8 808.5 L1012.3 808.7 L1013.8 808.8 L1015.2 808.9 L1016.7 809.0 L1018.2 809.1 L1019.7 809.2 L1021.2 809.3 L1022.7 809.4 L1024.2 809.6 L1025.7 809.7 L1027.2 809.8 L1028.7 809.9 L1030.2 810.0 L1031.7 810.1 L1033.2 810.2 L1034.7 810.3 L1036.2 810.4 L1037.7 810.5 L1039.2 810.6 L1040.7 810.7 L1042.2 810.8 L1043.7 811.0 L1045.2 811.1 L1046.7 811.2 L1048.2 811.3 L1049.7 811.4 L1051.2 811.5 L1052.7 811.6 L1054.2 811.7 L1055.6 811.8 L1057.1 811.9 L1058.6 812.0 L1060.1 812.1 L1061.6 812.2 L1063.1 812.3 L1064.6 812.3 L1066.1 812.4 L1067.6 812.5 L1069.1 812.6 L1070.6 812.7 L1072.1 812.8 L1073.6 812.9 L1075.1 813.0 L1076.6 813.1 L1078.1 813.2 L1079.6 813.3 L1081.1 813.4 L1082.6 813.5 L1084.1 813.6 L1085.6 813.6 L1087.1 813.7 L1088.6 813.8 L1090.1 813.9 L1091.6 814.0 L1093.1 814.1 L1094.6 814.2 L1096.1 814.3 L1097.6 814.3 L1099.1 814.4 L1100.6 814.5 L1102.1 814.6 L1103.6 814.7 L1105.1 814.8 L1106.6 814.8 L1108.1 814.9 L1109.6 815.0 L1111.0 815.1 L1112.5 815.2 L1114.0 815.2 L1115.5 815.3 L1117.0 815.4 L1118.5 815.5 L1120.0 815.5 L1121.5 815.6 L1123.0 815.7 L1124.5 815.8 L1126.0 815.8 L1127.5 815.9 L1129.0 816.0 L1130.5 816.1 L1132.0 816.1 L1133.5 816.2 L1135.0 816.3 L1136.5 816.3 L1138.0 816.4 L1139.5 816.5 L1141.0 816.5 L1142.5 816.6 L1144.0 816.7 L1145.5 816.7 L1147.0 816.8 L1148.5 816.9 L1150.0 816.9 L1151.5 817.0 L1153.0 817.1 L1154.5 817.1 L1156.0 817.2 L1157.5 817.3 L1159.0 817.3 L1160.5 817.4 L1162.0 817.4 L1163.5 817.5 L1165.0 817.6 L1166.5 817.6 L1168.0 817.7 L1169.5 817.7 L1171.0 817.8 L1172.5 817.9 L1174.0 817.9 L1175.5 818.0 L1177.0 818.0 L1178.5 818.1 L1180.0 818.1 L1181.5 818.2 L1183.0 818.2 L1184.5 818.3 L1186.0 818.3 L1187.5 818.4 L1189.0 818.4 L1190.5 818.5 L1192.0 818.5 L1193.5 818.5 L1195.0 818.6 L1196.5 818.6 L1198.0 818.6 L1199.5 818.7 L1201.0 818.7 L1202.5 818.7 L1204.0 818.8 L1205.5 818.8 L1207.0 818.8 L1208.5 818.9 L1210.0 818.9 L1211.5 818.9 L1213.0 818.9 L1214.5 818.9 L1216.0 819.0 L1217.5 819.0 L1219.0 819.0 L1220.5 819.0 L1222.0 819.0 L1223.5 819.0 L1225.0 819.0 L1226.5 819.1 L1228.0 819.1 L1229.5 819.1 L1231.0 819.1 L1232.5 819.1 L1234.0 819.1 L1235.5 819.1 L1237.0 819.1 L1238.5 819.1 L1240.0 819.1 L1241.5 819.1 L1243.0 819.2 L1244.5 819.2 L1246.0 819.2 L1247.5 819.2 L1249.0 819.2 L1250.5 819.2 L1252.0 819.2 L1253.5 819.2 L1255.0 819.2 L1256.5 819.2 L1258.0 819.2 L1259.5 819.2 L1261.0 819.3 L1262.5 819.3 L1264.0 819.3 L1265.5 819.3 L1267.0 819.3 L1268.5 819.3 L1270.0 819.3 L1271.5 819.3 L1273.0 819.3 L1274.5 819.3 L1276.0 819.3 L1277.5 819.2 L1279.0 819.2 L1280.5 819.2 L1282.0 819.1 L1283.5 819.1 L1285.0 819.0 L1286.5 819.0 L1288.0 818.9 L1289.5 818.8 L1291.0 818.7 L1292.5 818.7 L1294.0 818.6 L1295.5 818.5 L1297.0 818.4 L1298.5 818.3 L1300.0 818.2 L1301.4 818.2 L1302.9 818.1 L1304.4 818.0 L1305.9 817.9 L1307.4 817.9 L1308.9 817.8 L1310.4 817.7 L1311.9 817.7 L1313.4 817.6 L1314.9 817.5 L1316.4 817.5 L1317.9 817.4 L1319.4 817.4 L1320.9 817.3 L1322.4 817.2 L1323.9 817.2 L1325.4 817.1 L1326.9 817.1 L1328.4 817.0 L1329.9 816.9 L1331.4 816.9 L1332.9 816.8 L1334.4 816.8 L1335.9 816.7 L1337.4 816.6 L1338.9 816.6 L1340.4 816.5 L1341.9 816.5 L1343.4 816.4 L1344.9 816.4 L1346.4 816.3 L1347.9 816.3 L1349.4 816.2 L1350.9 816.1 L1352.4 816.1 L1353.9 816.0 L1355.4 816.0 L1356.9 815.9 L1358.4 815.9 L1359.9 815.8 L1361.4 815.8 L1362.9 815.7 L1363.4 815.7"/>
<path class="crv" stroke="#ff00ff" d="M106.0 913.0 L106.0 1143.8 L106.8 1189.9 L107.4 1297.6 L107.5 1296.1 L107.6 1294.6 L107.7 1293.1 L107.8 1291.6 L107.9 1290.1 L108.0 1288.6 L108.1 1287.1 L108.2 1285.6 L108.3 1284.1 L108.4 1282.6 L108.5 1281.1 L108.6 1279.6 L108.7 1278.1 L108.8 1276.6 L108.9 1275.1 L109.0 1273.7 L109.1 1272.2 L109.2 1270.7 L109.3 1269.2 L109.4 1267.7 L109.5 1266.2 L109.6 1264.7 L109.7 1263.2 L109.8 1261.7 L109.9 1260.2 L110.0 1258.7 L110.1 1257.2 L110.2 1255.7 L110.2 1254.2 L110.3 1252.7 L110.4 1251.2 L110.5 1249.7 L110.6 1248.2 L110.7 1246.7 L110.8 1245.2 L110.9 1243.7 L111.0 1242.2 L111.0 1240.7 L111.1 1239.2 L111.2 1237.7 L111.3 1236.2 L111.4 1234.7 L111.5 1233.2 L111.5 1231.7 L111.6 1230.2 L111.7 1228.7 L111.8 1227.2 L111.9 1225.7 L112.0 1224.2 L112.0 1222.7 L112.1 1221.2 L112.2 1219.7 L112.3 1218.2 L112.4 1216.7 L112.4 1215.3 L112.5 1213.8 L112.6 1212.3 L112.7 1210.8 L112.7 1209.3 L112.8 1207.8 L112.9 1206.3 L113.0 1204.8 L113.0 1203.3 L113.1 1201.8 L113.2 1200.3 L113.3 1198.8 L113.3 1197.3 L113.4 1195.8 L113.5 1194.3 L113.6 1192.8 L113.6 1191.3 L113.7 1189.8 L113.8 1188.3 L113.8 1186.8 L113.9 1185.3 L114.0 1183.8 L114.1 1182.3 L114.1 1180.8 L114.2 1179.3 L114.3 1177.8 L114.3 1176.3 L114.4 1174.8 L114.5 1173.3 L114.5 1171.8 L114.6 1170.3 L114.7 1168.8 L114.7 1167.3 L114.8 1165.8 L114.9 1164.3 L114.9 1162.8 L115.0 1161.3 L115.1 1159.8 L115.1 1158.3 L115.2 1156.8 L115.3 1155.3 L115.4 1153.8 L115.4 1152.3 L115.5 1150.8 L115.6 1149.3 L115.7 1147.8 L115.7 1146.3 L115.8 1144.8 L115.9 1143.3 L116.0 1141.8 L116.1 1140.3 L116.1 1138.8 L116.2 1137.3 L116.3 1135.8 L116.4 1134.3 L116.5 1132.9 L116.7 1131.4 L116.8 1129.9 L117.0 1128.4 L117.1 1126.9 L117.3 1125.4 L117.5 1123.9 L117.7 1122.4 L117.9 1120.9 L118.1 1119.4 L118.3 1118.0 L118.4 1116.5 L118.6 1115.0 L118.8 1113.5 L119.0 1112.0 L119.2 1110.5 L119.5 1109.0 L119.7 1107.5 L119.9 1106.1 L120.2 1104.6 L120.4 1103.1 L120.7 1101.6 L121.0 1100.2 L121.3 1098.7 L121.7 1097.2 L122.1 1095.8 L122.5 1094.4 L123.1 1093.0 L123.7 1091.6 L124.4 1090.3 L125.2 1089.0 L126.0 1087.8 L126.9 1086.6 L127.9 1085.5 L129.0 1084.5 L130.1 1083.5 L131.3 1082.6 L132.5 1081.8 L133.8 1081.0 L135.2 1080.3 L136.5 1079.6 L137.8 1079.0 L139.2 1078.4 L140.6 1077.8 L142.0 1077.3 L143.4 1076.9 L144.9 1076.5 L146.3 1076.1 L147.8 1075.8 L149.3 1075.6 L150.8 1075.3 L152.2 1075.0 L153.7 1074.8 L155.2 1074.5 L156.7 1074.2 L158.1 1074.0 L159.6 1073.7 L161.1 1073.4 L162.6 1073.2 L164.0 1073.0 L165.5 1072.7 L167.0 1072.5 L168.5 1072.3 L170.0 1072.1 L171.5 1071.9 L173.0 1071.7 L174.4 1071.5 L175.9 1071.3 L177.4 1071.1 L178.9 1070.9 L180.4 1070.7 L181.9 1070.5 L183.4 1070.3 L184.8 1070.1 L186.3 1069.9 L187.8 1069.6 L189.3 1069.4 L190.8 1069.2 L192.3 1069.0 L193.8 1068.8 L195.2 1068.5 L196.7 1068.3 L198.2 1068.1 L199.7 1067.8 L201.2 1067.6 L202.6 1067.3 L204.1 1067.1 L205.6 1066.8 L207.1 1066.5 L208.5 1066.3 L210.0 1066.0 L211.5 1065.7 L213.0 1065.5 L214.4 1065.2 L215.9 1065.0 L217.4 1064.7 L218.9 1064.5 L220.4 1064.3 L221.9 1064.1 L223.3 1063.8 L224.8 1063.6 L226.3 1063.4 L227.8 1063.2 L229.3 1063.0 L230.8 1062.8 L232.3 1062.6 L233.8 1062.4 L235.2 1062.3 L236.7 1062.1 L238.2 1061.9 L239.7 1061.7 L241.2 1061.5 L242.7 1061.3 L244.2 1061.2 L245.7 1061.0 L247.2 1060.8 L248.6 1060.7 L250.1 1060.5 L251.6 1060.3 L253.1 1060.2 L254.6 1060.0 L256.1 1059.9 L257.6 1059.7 L259.1 1059.6 L260.6 1059.4 L262.1 1059.3 L263.6 1059.1 L265.1 1059.0 L266.6 1058.9 L268.0 1058.7 L269.5 1058.6 L271.0 1058.5 L272.5 1058.4 L274.0 1058.3 L275.5 1058.1 L277.0 1058.0 L278.5 1057.9 L280.0 1057.8 L281.5 1057.7 L283.0 1057.6 L284.5 1057.5 L286.0 1057.4 L287.5 1057.3 L289.0 1057.2 L290.5 1057.1 L292.0 1057.0 L293.5 1056.9 L295.0 1056.9 L296.5 1056.8 L298.0 1056.7 L299.5 1056.6 L301.0 1056.5 L302.5 1056.4 L304.0 1056.3 L305.5 1056.2 L307.0 1056.2 L308.5 1056.1 L310.0 1056.0 L311.5 1055.9 L313.0 1055.8 L314.5 1055.8 L316.0 1055.7 L317.5 1055.6 L318.9 1055.5 L320.4 1055.4 L321.9 1055.4 L323.4 1055.3 L324.9 1055.2 L326.4 1055.2 L327.9 1055.1 L329.4 1055.0 L330.9 1055.0 L332.4 1054.9 L333.9 1054.8 L335.4 1054.8 L336.9 1054.7 L338.4 1054.6 L339.9 1054.6 L341.4 1054.5 L342.9 1054.5 L344.4 1054.4 L345.9 1054.4 L347.4 1054.3 L348.9 1054.3 L350.4 1054.2 L351.9 1054.2 L353.4 1054.1 L354.9 1054.1 L356.4 1054.0 L357.9 1054.0 L359.4 1053.9 L360.9 1053.9 L362.4 1053.9 L363.9 1053.8 L365.4 1053.8 L366.9 1053.8 L368.4 1053.7 L369.9 1053.7 L371.4 1053.7 L372.9 1053.6 L374.4 1053.6 L375.9 1053.6 L377.4 1053.5 L378.9 1053.5 L380.4 1053.5 L381.9 1053.4 L383.4 1053.4 L384.9 1053.3 L386.4 1053.3 L387.9 1053.3 L389.4 1053.2 L390.9 1053.2 L392.4 1053.1 L393.9 1053.1 L395.4 1053.0 L396.9 1053.0 L398.4 1053.0 L399.9 1052.9 L401.4 1052.9 L402.9 1052.8 L404.4 1052.8 L405.9 1052.7 L407.4 1052.7 L408.9 1052.6 L410.4 1052.6 L411.9 1052.5 L413.4 1052.5 L414.9 1052.4 L416.4 1052.4 L417.9 1052.3 L419.4 1052.3 L420.9 1052.2 L422.4 1052.2 L423.9 1052.1 L425.4 1052.1 L426.9 1052.0 L428.4 1052.0 L429.9 1051.9 L431.4 1051.9 L432.9 1051.8 L434.4 1051.8 L435.9 1051.7 L437.4 1051.7 L438.9 1051.6 L440.4 1051.5 L441.9 1051.5 L443.4 1051.4 L444.9 1051.4 L446.4 1051.3 L447.9 1051.3 L449.4 1051.2 L450.9 1051.2 L452.4 1051.1 L453.9 1051.1 L455.4 1051.0 L456.9 1051.0 L458.4 1050.9 L459.9 1050.8 L461.4 1050.8 L462.9 1050.7 L464.4 1050.7 L465.9 1050.6 L467.4 1050.5 L468.9 1050.4 L470.4 1050.3 L471.9 1050.3 L473.4 1050.2 L474.9 1050.1 L476.3 1050.0 L477.8 1049.8 L479.3 1049.7 L480.8 1049.6 L482.3 1049.5 L483.8 1049.3 L485.3 1049.2 L486.8 1049.1 L488.3 1048.9 L489.8 1048.8 L491.3 1048.6 L492.8 1048.4 L494.3 1048.2 L495.8 1048.1 L497.2 1047.9 L498.7 1047.7 L500.2 1047.5 L501.7 1047.3 L503.2 1047.1 L504.7 1046.9 L506.2 1046.7 L507.6 1046.5 L509.1 1046.2 L510.6 1046.0 L512.1 1045.8 L513.6 1045.6 L515.1 1045.3 L516.5 1045.1 L518.0 1044.9 L519.5 1044.6 L521.0 1044.4 L522.5 1044.1 L523.9 1043.9 L525.4 1043.6 L526.9 1043.4 L528.4 1043.1 L529.9 1042.8 L531.3 1042.6 L532.8 1042.3 L534.3 1042.0 L535.7 1041.7 L537.2 1041.4 L538.7 1041.0 L540.1 1040.7 L541.6 1040.4 L543.0 1040.0 L544.5 1039.6 L545.9 1039.2 L547.4 1038.8 L548.8 1038.4 L550.3 1038.0 L551.7 1037.6 L553.1 1037.1 L554.6 1036.7 L556.0 1036.2 L557.4 1035.7 L558.8 1035.2 L560.3 1034.7 L561.7 1034.3 L563.1 1033.8 L564.5 1033.3 L565.9 1032.8 L567.3 1032.3 L568.8 1031.8 L570.2 1031.3 L571.6 1030.8 L573.0 1030.3 L574.4 1029.8 L575.9 1029.4 L577.3 1028.9 L578.7 1028.4 L580.1 1027.9 L581.5 1027.4 L583.0 1027.0 L584.4 1026.5 L585.8 1026.0 L587.2 1025.5 L588.6 1025.0 L590.1 1024.6 L591.5 1024.1 L592.9 1023.7 L594.4 1023.2 L595.8 1022.8 L597.2 1022.3 L598.7 1021.9 L600.1 1021.5 L601.5 1021.1 L603.0 1020.7 L604.4 1020.2 L605.9 1019.8 L607.3 1019.4 L608.8 1019.1 L610.2 1018.7 L611.7 1018.3 L613.1 1018.0 L614.6 1017.7 L616.1 1017.3 L617.5 1017.1 L619.0 1016.8 L620.5 1016.5 L622.0 1016.3 L623.5 1016.1 L625.0 1015.9 L626.4 1015.7 L627.9 1015.6 L629.4 1015.4 L630.9 1015.3 L632.4 1015.2 L633.9 1015.0 L635.4 1014.9 L636.9 1014.8 L638.4 1014.7 L639.9 1014.6 L641.4 1014.5 L642.9 1014.4 L644.4 1014.4 L645.9 1014.3 L647.4 1014.3 L648.9 1014.3 L650.4 1014.3 L651.9 1014.4 L653.4 1014.4 L654.9 1014.5 L656.4 1014.6 L657.9 1014.7 L659.4 1014.8 L660.9 1014.9 L662.4 1015.1 L663.8 1015.2 L665.3 1015.4 L666.8 1015.5 L668.3 1015.6 L669.8 1015.8 L671.3 1015.9 L672.8 1016.1 L674.3 1016.2 L675.8 1016.4 L677.3 1016.6 L678.8 1016.7 L680.3 1016.9 L681.8 1017.1 L683.2 1017.3 L684.7 1017.4 L686.2 1017.6 L687.7 1017.8 L689.2 1018.0 L690.7 1018.1 L692.2 1018.3 L693.7 1018.4 L695.2 1018.6 L696.7 1018.7 L698.2 1018.9 L699.7 1019.0 L701.1 1019.1 L702.6 1019.3 L704.1 1019.4 L705.6 1019.5 L707.1 1019.6 L708.6 1019.8 L710.1 1019.9 L711.6 1020.0 L713.1 1020.1 L714.6 1020.3 L716.1 1020.4 L717.6 1020.5 L719.1 1020.6 L720.6 1020.8 L722.1 1020.9 L723.6 1021.0 L725.1 1021.1 L726.6 1021.3 L728.1 1021.4 L729.5 1021.5 L731.0 1021.7 L732.5 1021.8 L734.0 1021.9 L735.5 1022.1 L737.0 1022.2 L738.5 1022.3 L740.0 1022.5 L741.5 1022.6 L743.0 1022.8 L744.5 1022.9 L746.0 1023.1 L747.5 1023.2 L749.0 1023.4 L750.4 1023.6 L751.9 1023.7 L753.4 1023.9 L754.9 1024.0 L756.4 1024.2 L757.9 1024.3 L759.4 1024.5 L760.9 1024.7 L762.4 1024.8 L763.9 1025.0 L765.4 1025.1 L766.9 1025.3 L768.4 1025.4 L769.8 1025.6 L771.3 1025.7 L772.8 1025.9 L774.3 1026.0 L775.8 1026.1 L777.3 1026.3 L778.8 1026.4 L780.3 1026.5 L781.8 1026.7 L783.3 1026.8 L784.8 1026.9 L786.3 1027.0 L787.8 1027.1 L789.3 1027.3 L790.8 1027.4 L792.3 1027.5 L793.8 1027.6 L795.3 1027.7 L796.8 1027.8 L798.2 1027.9 L799.7 1028.0 L801.2 1028.1 L802.7 1028.2 L804.2 1028.3 L805.7 1028.4 L807.2 1028.6 L808.7 1028.7 L810.2 1028.8 L811.7 1028.9 L813.2 1029.0 L814.7 1029.1 L816.2 1029.2 L817.7 1029.3 L819.2 1029.4 L820.7 1029.6 L822.2 1029.7 L823.7 1029.8 L825.2 1029.9 L826.7 1030.0 L828.2 1030.2 L829.7 1030.3 L831.2 1030.4 L832.6 1030.5 L834.1 1030.6 L835.6 1030.8 L837.1 1030.9 L838.6 1031.0 L840.1 1031.1 L841.6 1031.3 L843.1 1031.4 L844.6 1031.5 L846.1 1031.7 L847.6 1031.8 L849.1 1031.9 L850.6 1032.0 L852.1 1032.2 L853.6 1032.3 L855.1 1032.4 L856.6 1032.5 L858.1 1032.7 L859.6 1032.8 L861.0 1032.9 L862.5 1033.0 L864.0 1033.2 L865.5 1033.3 L867.0 1033.4 L868.5 1033.6 L870.0 1033.7 L871.5 1033.8 L873.0 1033.9 L874.5 1034.0 L876.0 1034.2 L877.5 1034.3 L879.0 1034.4 L880.5 1034.5 L882.0 1034.7 L883.5 1034.8 L885.0 1034.9 L886.5 1035.0 L888.0 1035.1 L889.5 1035.3 L890.9 1035.4 L892.4 1035.5 L893.9 1035.6 L895.4 1035.8 L896.9 1035.9 L898.4 1036.0 L899.9 1036.1 L901.4 1036.2 L902.9 1036.4 L904.4 1036.5 L905.9 1036.6 L907.4 1036.7 L908.9 1036.8 L910.4 1037.0 L911.9 1037.1 L913.4 1037.2 L914.9 1037.3 L916.4 1037.4 L917.9 1037.5 L919.4 1037.7 L920.9 1037.8 L922.4 1037.9 L923.8 1038.0 L925.3 1038.1 L926.8 1038.2 L928.3 1038.3 L929.8 1038.4 L931.3 1038.6 L932.8 1038.7 L934.3 1038.8 L935.8 1038.9 L937.3 1039.0 L938.8 1039.1 L940.3 1039.2 L941.8 1039.3 L943.3 1039.4 L944.8 1039.5 L946.3 1039.6 L947.8 1039.7 L949.3 1039.8 L950.8 1039.9 L952.3 1040.0 L953.8 1040.1 L955.3 1040.2 L956.8 1040.3 L958.3 1040.4 L959.8 1040.4 L961.3 1040.5 L962.8 1040.6 L964.3 1040.7 L965.8 1040.8 L967.3 1040.9 L968.7 1041.0 L970.2 1041.1 L971.7 1041.2 L973.2 1041.3 L974.7 1041.4 L976.2 1041.5 L977.7 1041.6 L979.2 1041.6 L980.7 1041.7 L982.2 1041.8 L983.7 1041.9 L985.2 1042.0 L986.7 1042.1 L988.2 1042.2 L989.7 1042.3 L991.2 1042.4 L992.7 1042.5 L994.2 1042.6 L995.7 1042.7 L997.2 1042.8 L998.7 1042.9 L1000.2 1042.9 L1001.7 1043.0 L1003.2 1043.1 L1004.7 1043.2 L1006.2 1043.3 L1007.7 1043.4 L1009.2 1043.5 L1010.7 1043.6 L1012.2 1043.7 L1013.7 1043.8 L1015.2 1043.9 L1016.7 1044.0 L1018.2 1044.1 L1019.7 1044.2 L1021.2 1044.2 L1022.6 1044.3 L1024.1 1044.4 L1025.6 1044.5 L1027.1 1044.6 L1028.6 1044.7 L1030.1 1044.8 L1031.6 1044.9 L1033.1 1044.9 L1034.6 1045.0 L1036.1 1045.1 L1037.6 1045.2 L1039.1 1045.3 L1040.6 1045.3 L1042.1 1045.4 L1043.6 1045.5 L1045.1 1045.5 L1046.6 1045.6 L1048.1 1045.7 L1049.6 1045.8 L1051.1 1045.8 L1052.6 1045.9 L1054.1 1046.0 L1055.6 1046.0 L1057.1 1046.1 L1058.6 1046.2 L1060.1 1046.2 L1061.6 1046.3 L1063.1 1046.3 L1064.6 1046.4 L1066.1 1046.5 L1067.6 1046.5 L1069.1 1046.6 L1070.6 1046.6 L1072.1 1046.7 L1073.6 1046.8 L1075.1 1046.8 L1076.6 1046.9 L1078.1 1046.9 L1079.6 1047.0 L1081.1 1047.0 L1082.6 1047.1 L1084.1 1047.2 L1085.6 1047.2 L1087.1 1047.3 L1088.6 1047.3 L1090.1 1047.4 L1091.6 1047.4 L1093.1 1047.5 L1094.6 1047.5 L1096.1 1047.6 L1097.6 1047.7 L1099.1 1047.7 L1100.6 1047.8 L1102.1 1047.8 L1103.6 1047.9 L1105.1 1047.9 L1106.6 1048.0 L1108.1 1048.0 L1109.6 1048.1 L1111.1 1048.1 L1112.6 1048.2 L1114.1 1048.2 L1115.6 1048.3 L1117.1 1048.3 L1118.6 1048.4 L1120.1 1048.5 L1121.6 1048.5 L1123.1 1048.6 L1124.6 1048.6 L1126.1 1048.7 L1127.6 1048.7 L1129.1 1048.7 L1130.6 1048.8 L1132.1 1048.8 L1133.6 1048.9 L1135.1 1048.9 L1136.6 1049.0 L1138.1 1049.0 L1139.6 1049.1 L1141.1 1049.1 L1142.6 1049.2 L1144.1 1049.2 L1145.6 1049.3 L1147.0 1049.3 L1148.5 1049.4 L1150.0 1049.4 L1151.5 1049.4 L1153.0 1049.5 L1154.5 1049.5 L1156.0 1049.6 L1157.5 1049.6 L1159.0 1049.7 L1160.5 1049.7 L1162.0 1049.8 L1163.5 1049.8 L1165.0 1049.9 L1166.5 1049.9 L1168.0 1050.0 L1169.5 1050.0 L1171.0 1050.0 L1172.5 1050.1 L1174.0 1050.1 L1175.5 1050.2 L1177.0 1050.2 L1178.5 1050.3 L1180.0 1050.3 L1181.5 1050.3 L1183.0 1050.4 L1184.5 1050.4 L1186.0 1050.4 L1187.5 1050.5 L1189.0 1050.5 L1190.5 1050.5 L1192.0 1050.6 L1193.5 1050.6 L1195.0 1050.6 L1196.5 1050.6 L1198.0 1050.7 L1199.5 1050.7 L1201.0 1050.7 L1202.5 1050.7 L1204.0 1050.7 L1205.5 1050.8 L1207.0 1050.8 L1208.5 1050.8 L1210.0 1050.8 L1211.5 1050.8 L1213.0 1050.8 L1214.5 1050.9 L1216.0 1050.9 L1217.5 1050.9 L1219.0 1050.9 L1220.5 1050.9 L1222.0 1050.9 L1223.5 1050.9 L1225.0 1050.9 L1226.5 1050.9 L1228.0 1050.9 L1229.5 1050.9 L1231.0 1050.9 L1232.5 1050.9 L1234.0 1050.9 L1235.5 1050.9 L1237.0 1050.9 L1238.5 1050.9 L1240.0 1050.9 L1241.5 1050.9 L1243.0 1050.9 L1244.5 1050.8 L1246.0 1050.8 L1247.5 1050.8 L1249.0 1050.8 L1250.5 1050.7 L1252.0 1050.7 L1253.5 1050.7 L1255.0 1050.7 L1256.5 1050.6 L1258.0 1050.6 L1259.5 1050.5 L1261.0 1050.5 L1262.5 1050.5 L1264.0 1050.4 L1265.5 1050.4 L1267.0 1050.3 L1268.5 1050.3 L1270.0 1050.2 L1271.5 1050.1 L1273.0 1050.1 L1274.5 1050.0 L1276.0 1050.0 L1277.5 1049.9 L1279.0 1049.8 L1280.5 1049.8 L1282.0 1049.7 L1283.5 1049.6 L1285.0 1049.6 L1286.5 1049.5 L1288.0 1049.4 L1289.5 1049.3 L1291.0 1049.3 L1292.5 1049.2 L1294.0 1049.1 L1295.5 1049.1 L1297.0 1049.0 L1298.5 1048.9 L1300.0 1048.8 L1301.5 1048.8 L1303.0 1048.7 L1304.5 1048.6 L1306.0 1048.5 L1307.5 1048.5 L1309.0 1048.4 L1310.5 1048.3 L1312.0 1048.2 L1313.5 1048.2 L1315.0 1048.1 L1316.5 1048.0 L1318.0 1047.9 L1319.5 1047.8 L1321.0 1047.8 L1322.5 1047.7 L1324.0 1047.6 L1325.5 1047.5 L1327.0 1047.4 L1328.5 1047.3 L1330.0 1047.2 L1331.5 1047.2 L1333.0 1047.1 L1334.4 1047.0 L1335.9 1046.9 L1337.4 1046.8 L1338.9 1046.7 L1340.4 1046.6 L1341.9 1046.5 L1343.4 1046.5 L1344.9 1046.4 L1346.4 1046.3 L1347.9 1046.2 L1349.4 1046.1 L1350.9 1046.0 L1352.4 1045.9 L1353.9 1045.8 L1355.4 1045.8 L1356.9 1045.7 L1358.4 1045.6 L1359.9 1045.5 L1361.4 1045.4 L1362.9 1045.3 L1363.4 1045.3"/>
<path class="crv" stroke="#008000" d="M106.0 1154.0 L106.0 1377.0 L106.8 1421.6 L107.4 1525.7 L107.5 1524.2 L107.5 1522.7 L107.6 1521.2 L107.7 1519.7 L107.8 1518.2 L107.8 1516.7 L107.9 1515.2 L108.0 1513.7 L108.0 1512.2 L108.1 1510.7 L108.2 1509.2 L108.2 1507.7 L108.3 1506.2 L108.4 1504.7 L108.5 1503.2 L108.5 1501.7 L108.6 1500.2 L108.7 1498.7 L108.7 1497.2 L108.8 1495.7 L108.9 1494.2 L109.0 1492.7 L109.0 1491.2 L109.1 1489.7 L109.2 1488.2 L109.2 1486.7 L109.3 1485.2 L109.4 1483.7 L109.4 1482.2 L109.5 1480.7 L109.6 1479.2 L109.6 1477.7 L109.7 1476.2 L109.8 1474.7 L109.9 1473.2 L109.9 1471.7 L110.0 1470.2 L110.1 1468.7 L110.1 1467.2 L110.2 1465.7 L110.3 1464.3 L110.3 1462.8 L110.4 1461.3 L110.5 1459.8 L110.5 1458.3 L110.6 1456.8 L110.6 1455.3 L110.7 1453.8 L110.8 1452.3 L110.8 1450.8 L110.9 1449.3 L111.0 1447.8 L111.0 1446.3 L111.1 1444.8 L111.2 1443.3 L111.2 1441.8 L111.3 1440.3 L111.3 1438.8 L111.4 1437.3 L111.5 1435.8 L111.5 1434.3 L111.6 1432.8 L111.6 1431.3 L111.7 1429.8 L111.8 1428.3 L111.8 1426.8 L111.9 1425.3 L111.9 1423.8 L112.0 1422.3 L112.1 1420.8 L112.1 1419.3 L112.2 1417.8 L112.2 1416.3 L112.3 1414.8 L112.3 1413.3 L112.4 1411.8 L112.5 1410.3 L112.5 1408.8 L112.6 1407.3 L112.7 1405.8 L112.7 1404.3 L112.8 1402.8 L112.9 1401.3 L113.0 1399.8 L113.1 1398.3 L113.2 1396.8 L113.2 1395.3 L113.3 1393.8 L113.4 1392.3 L113.5 1390.8 L113.6 1389.3 L113.6 1387.8 L113.7 1386.3 L113.8 1384.8 L113.8 1383.3 L113.9 1381.8 L114.0 1380.3 L114.1 1378.8 L114.3 1377.3 L114.4 1375.8 L114.5 1374.3 L114.7 1372.8 L114.9 1371.4 L115.0 1369.9 L115.2 1368.4 L115.4 1366.9 L115.6 1365.4 L115.8 1363.9 L116.0 1362.4 L116.2 1360.9 L116.4 1359.4 L116.6 1358.0 L116.9 1356.5 L117.2 1355.0 L117.6 1353.6 L118.1 1352.2 L118.7 1350.8 L119.3 1349.5 L120.0 1348.1 L120.7 1346.8 L121.5 1345.6 L122.5 1344.5 L123.5 1343.5 L124.7 1342.6 L126.0 1341.8 L127.3 1341.2 L128.7 1340.7 L130.1 1340.2 L131.6 1339.7 L133.0 1339.3 L134.4 1338.8 L135.9 1338.4 L137.3 1337.9 L138.7 1337.5 L140.2 1337.1 L141.6 1336.8 L143.1 1336.4 L144.6 1336.1 L146.0 1335.9 L147.5 1335.7 L149.0 1335.4 L150.5 1335.2 L152.0 1335.0 L153.5 1334.8 L154.9 1334.5 L156.4 1334.3 L157.9 1334.0 L159.4 1333.8 L160.8 1333.5 L162.3 1333.2 L163.8 1333.0 L165.3 1332.8 L166.8 1332.6 L168.3 1332.4 L169.8 1332.2 L171.2 1332.0 L172.7 1331.8 L174.2 1331.7 L175.7 1331.5 L177.2 1331.3 L178.7 1331.2 L180.2 1331.0 L181.7 1330.9 L183.2 1330.7 L184.7 1330.6 L186.2 1330.5 L187.7 1330.3 L189.2 1330.2 L190.7 1330.1 L192.1 1330.0 L193.6 1329.8 L195.1 1329.7 L196.6 1329.5 L198.1 1329.4 L199.6 1329.2 L201.1 1329.0 L202.6 1328.9 L204.1 1328.7 L205.6 1328.5 L207.1 1328.3 L208.5 1328.1 L210.0 1327.8 L211.5 1327.6 L213.0 1327.4 L214.5 1327.2 L216.0 1327.0 L217.5 1326.9 L219.0 1326.7 L220.4 1326.5 L221.9 1326.4 L223.4 1326.2 L224.9 1326.0 L226.4 1325.9 L227.9 1325.7 L229.4 1325.6 L230.9 1325.4 L232.4 1325.3 L233.9 1325.1 L235.4 1325.0 L236.9 1324.9 L238.4 1324.7 L239.8 1324.6 L241.3 1324.4 L242.8 1324.3 L244.3 1324.2 L245.8 1324.0 L247.3 1323.9 L248.8 1323.8 L250.3 1323.7 L251.8 1323.5 L253.3 1323.4 L254.8 1323.3 L256.3 1323.2 L257.8 1323.1 L259.3 1323.0 L260.8 1322.9 L262.3 1322.8 L263.8 1322.7 L265.3 1322.6 L266.8 1322.5 L268.3 1322.4 L269.8 1322.3 L271.3 1322.2 L272.8 1322.1 L274.3 1322.1 L275.8 1322.0 L277.3 1321.9 L278.8 1321.8 L280.3 1321.8 L281.8 1321.7 L283.3 1321.6 L284.8 1321.6 L286.3 1321.5 L287.8 1321.4 L289.3 1321.4 L290.8 1321.3 L292.2 1321.3 L293.7 1321.2 L295.2 1321.1 L296.7 1321.1 L298.2 1321.0 L299.7 1321.0 L301.2 1320.9 L302.7 1320.9 L304.2 1320.8 L305.7 1320.8 L307.2 1320.7 L308.7 1320.7 L310.2 1320.6 L311.7 1320.6 L313.2 1320.5 L314.7 1320.5 L316.2 1320.4 L317.7 1320.4 L319.2 1320.3 L320.7 1320.3 L322.2 1320.2 L323.7 1320.2 L325.2 1320.2 L326.7 1320.1 L328.2 1320.1 L329.7 1320.1 L331.2 1320.0 L332.7 1320.0 L334.2 1320.0 L335.7 1319.9 L337.2 1319.9 L338.7 1319.9 L340.2 1319.8 L341.7 1319.8 L343.2 1319.8 L344.7 1319.8 L346.2 1319.7 L347.7 1319.7 L349.2 1319.7 L350.7 1319.6 L352.2 1319.6 L353.7 1319.6 L355.2 1319.6 L356.7 1319.6 L358.2 1319.5 L359.7 1319.5 L361.2 1319.5 L362.7 1319.5 L364.2 1319.5 L365.7 1319.5 L367.2 1319.5 L368.7 1319.4 L370.2 1319.4 L371.7 1319.4 L373.2 1319.4 L374.7 1319.4 L376.2 1319.4 L377.7 1319.4 L379.2 1319.4 L380.7 1319.4 L382.2 1319.4 L383.7 1319.3 L385.2 1319.3 L386.7 1319.3 L388.2 1319.3 L389.8 1319.3 L391.3 1319.3 L392.8 1319.3 L394.3 1319.3 L395.8 1319.3 L397.3 1319.3 L398.8 1319.2 L400.3 1319.2 L401.8 1319.2 L403.3 1319.2 L404.8 1319.2 L406.3 1319.2 L407.8 1319.2 L409.3 1319.2 L410.8 1319.2 L412.3 1319.2 L413.8 1319.2 L415.3 1319.2 L416.8 1319.2 L418.3 1319.2 L419.8 1319.2 L421.3 1319.1 L422.8 1319.1 L424.3 1319.1 L425.8 1319.1 L427.3 1319.1 L428.8 1319.1 L430.3 1319.1 L431.8 1319.1 L433.3 1319.1 L434.8 1319.1 L436.3 1319.1 L437.8 1319.1 L439.3 1319.1 L440.8 1319.1 L442.3 1319.1 L443.8 1319.1 L445.3 1319.1 L446.8 1319.1 L448.3 1319.1 L449.8 1319.1 L451.3 1319.1 L452.8 1319.1 L454.3 1319.1 L455.8 1319.0 L457.3 1319.0 L458.8 1319.0 L460.3 1319.0 L461.8 1319.0 L463.3 1319.0 L464.8 1319.0 L466.3 1319.0 L467.8 1319.0 L469.3 1319.0 L470.8 1319.0 L472.3 1319.0 L473.8 1319.0 L475.3 1318.9 L476.8 1318.9 L478.3 1318.9 L479.8 1318.9 L481.3 1318.9 L482.8 1318.9 L484.3 1318.9 L485.8 1318.8 L487.3 1318.8 L488.8 1318.8 L490.3 1318.8 L491.8 1318.8 L493.3 1318.8 L494.8 1318.8 L496.3 1318.7 L497.8 1318.7 L499.3 1318.7 L500.8 1318.7 L502.3 1318.7 L503.8 1318.6 L505.3 1318.6 L506.8 1318.6 L508.3 1318.5 L509.8 1318.5 L511.3 1318.5 L512.8 1318.4 L514.3 1318.4 L515.8 1318.3 L517.3 1318.2 L518.8 1318.2 L520.3 1318.1 L521.8 1318.0 L523.3 1318.0 L524.8 1317.9 L526.3 1317.8 L527.8 1317.7 L529.3 1317.6 L530.8 1317.5 L532.3 1317.4 L533.8 1317.3 L535.2 1317.2 L536.7 1317.1 L538.2 1317.0 L539.7 1316.9 L541.2 1316.8 L542.7 1316.6 L544.2 1316.5 L545.7 1316.4 L547.2 1316.2 L548.7 1316.1 L550.2 1315.9 L551.7 1315.8 L553.2 1315.6 L554.7 1315.5 L556.2 1315.3 L557.7 1315.1 L559.1 1315.0 L560.6 1314.8 L562.1 1314.6 L563.6 1314.4 L565.1 1314.2 L566.6 1314.0 L568.1 1313.8 L569.6 1313.6 L571.0 1313.3 L572.5 1313.1 L574.0 1312.8 L575.5 1312.6 L577.0 1312.3 L578.4 1312.1 L579.9 1311.8 L581.4 1311.5 L582.9 1311.2 L584.3 1311.0 L585.8 1310.7 L587.3 1310.4 L588.7 1310.1 L590.2 1309.8 L591.7 1309.5 L593.2 1309.2 L594.6 1308.9 L596.1 1308.6 L597.6 1308.3 L599.0 1308.0 L600.5 1307.7 L602.0 1307.5 L603.5 1307.2 L604.9 1306.9 L606.4 1306.6 L607.9 1306.3 L609.4 1306.0 L610.8 1305.8 L612.3 1305.5 L613.8 1305.2 L615.3 1304.9 L616.7 1304.6 L618.2 1304.4 L619.7 1304.1 L621.1 1303.8 L622.6 1303.5 L624.1 1303.2 L625.6 1302.9 L627.0 1302.6 L628.5 1302.4 L630.0 1302.1 L631.5 1301.8 L632.9 1301.5 L634.4 1301.2 L635.9 1301.0 L637.4 1300.7 L638.8 1300.4 L640.3 1300.1 L641.8 1299.9 L643.3 1299.6 L644.7 1299.3 L646.2 1299.1 L647.7 1298.8 L649.2 1298.6 L650.7 1298.3 L652.1 1298.1 L653.6 1297.8 L655.1 1297.6 L656.6 1297.3 L658.1 1297.1 L659.5 1296.8 L661.0 1296.6 L662.5 1296.4 L664.0 1296.1 L665.5 1295.9 L666.9 1295.7 L668.4 1295.5 L669.9 1295.3 L671.4 1295.1 L672.9 1294.9 L674.4 1294.7 L675.9 1294.5 L677.4 1294.3 L678.8 1294.2 L680.3 1294.0 L681.8 1293.9 L683.3 1293.8 L684.8 1293.7 L686.3 1293.6 L687.8 1293.5 L689.3 1293.4 L690.8 1293.3 L692.3 1293.3 L693.8 1293.2 L695.3 1293.2 L696.8 1293.1 L698.3 1293.1 L699.8 1293.1 L701.3 1293.1 L702.8 1293.1 L704.3 1293.1 L705.8 1293.1 L707.3 1293.1 L708.8 1293.1 L710.3 1293.1 L711.8 1293.1 L713.3 1293.2 L714.8 1293.2 L716.3 1293.3 L717.8 1293.4 L719.3 1293.4 L720.8 1293.5 L722.3 1293.6 L723.8 1293.8 L725.3 1293.9 L726.8 1294.0 L728.3 1294.2 L729.8 1294.3 L731.3 1294.4 L732.8 1294.6 L734.3 1294.7 L735.8 1294.9 L737.2 1295.0 L738.7 1295.2 L740.2 1295.3 L741.7 1295.5 L743.2 1295.6 L744.7 1295.8 L746.2 1295.9 L747.7 1296.1 L749.2 1296.2 L750.7 1296.4 L752.2 1296.5 L753.7 1296.7 L755.2 1296.8 L756.7 1297.0 L758.1 1297.2 L759.6 1297.3 L761.1 1297.5 L762.6 1297.6 L764.1 1297.8 L765.6 1297.9 L767.1 1298.1 L768.6 1298.2 L770.1 1298.4 L771.6 1298.5 L773.1 1298.7 L774.6 1298.8 L776.1 1299.0 L777.6 1299.1 L779.0 1299.2 L780.5 1299.4 L782.0 1299.5 L783.5 1299.6 L785.0 1299.7 L786.5 1299.9 L788.0 1300.0 L789.5 1300.1 L791.0 1300.2 L792.5 1300.3 L794.0 1300.5 L795.5 1300.6 L797.0 1300.7 L798.5 1300.8 L800.0 1300.9 L801.5 1301.0 L803.0 1301.1 L804.5 1301.2 L806.0 1301.3 L807.5 1301.4 L809.0 1301.5 L810.5 1301.7 L812.0 1301.8 L813.5 1301.9 L815.0 1302.0 L816.4 1302.1 L817.9 1302.2 L819.4 1302.3 L820.9 1302.4 L822.4 1302.5 L823.9 1302.6 L825.4 1302.7 L826.9 1302.8 L828.4 1302.9 L829.9 1303.0 L831.4 1303.1 L832.9 1303.2 L834.4 1303.3 L835.9 1303.3 L837.4 1303.4 L838.9 1303.5 L840.4 1303.6 L841.9 1303.7 L843.4 1303.8 L844.9 1303.9 L846.4 1304.0 L847.9 1304.1 L849.4 1304.2 L850.9 1304.3 L852.4 1304.4 L853.9 1304.4 L855.4 1304.5 L856.9 1304.6 L858.4 1304.7 L859.9 1304.8 L861.4 1304.9 L862.9 1305.0 L864.4 1305.1 L865.9 1305.2 L867.4 1305.2 L868.9 1305.3 L870.4 1305.4 L871.9 1305.5 L873.4 1305.6 L874.9 1305.7 L876.3 1305.8 L877.8 1305.9 L879.3 1306.0 L880.8 1306.1 L882.3 1306.1 L883.8 1306.2 L885.3 1306.3 L886.8 1306.4 L888.3 1306.5 L889.8 1306.6 L891.3 1306.7 L892.8 1306.8 L894.3 1306.9 L895.8 1307.0 L897.3 1307.1 L898.8 1307.2 L900.3 1307.3 L901.8 1307.4 L903.3 1307.5 L904.8 1307.6 L906.3 1307.6 L907.8 1307.7 L909.3 1307.8 L910.8 1307.9 L912.3 1308.0 L913.8 1308.1 L915.3 1308.2 L916.8 1308.3 L918.3 1308.4 L919.8 1308.5 L921.3 1308.5 L922.8 1308.6 L924.3 1308.7 L925.8 1308.8 L927.3 1308.9 L928.8 1309.0 L930.3 1309.0 L931.8 1309.1 L933.3 1309.2 L934.8 1309.3 L936.3 1309.3 L937.8 1309.4 L939.3 1309.5 L940.8 1309.5 L942.3 1309.6 L943.8 1309.7 L945.3 1309.7 L946.8 1309.8 L948.2 1309.9 L949.7 1309.9 L951.2 1310.0 L952.7 1310.1 L954.2 1310.1 L955.7 1310.2 L957.2 1310.2 L958.7 1310.3 L960.2 1310.3 L961.7 1310.4 L963.2 1310.4 L964.7 1310.5 L966.2 1310.6 L967.7 1310.6 L969.2 1310.7 L970.7 1310.7 L972.2 1310.8 L973.7 1310.8 L975.2 1310.9 L976.7 1310.9 L978.2 1311.0 L979.7 1311.0 L981.2 1311.1 L982.7 1311.2 L984.2 1311.2 L985.7 1311.3 L987.2 1311.3 L988.7 1311.4 L990.2 1311.4 L991.7 1311.5 L993.2 1311.6 L994.7 1311.6 L996.2 1311.7 L997.7 1311.7 L999.2 1311.8 L1000.7 1311.8 L1002.2 1311.9 L1003.7 1312.0 L1005.2 1312.0 L1006.7 1312.1 L1008.2 1312.1 L1009.7 1312.2 L1011.2 1312.2 L1012.7 1312.3 L1014.2 1312.4 L1015.7 1312.4 L1017.2 1312.5 L1018.7 1312.5 L1020.2 1312.6 L1021.7 1312.6 L1023.2 1312.7 L1024.7 1312.7 L1026.2 1312.8 L1027.7 1312.8 L1029.2 1312.9 L1030.7 1312.9 L1032.2 1313.0 L1033.7 1313.0 L1035.2 1313.1 L1036.7 1313.1 L1038.2 1313.1 L1039.7 1313.2 L1041.2 1313.2 L1042.7 1313.3 L1044.2 1313.3 L1045.7 1313.3 L1047.2 1313.4 L1048.7 1313.4 L1050.2 1313.4 L1051.7 1313.5 L1053.2 1313.5 L1054.7 1313.5 L1056.2 1313.5 L1057.7 1313.6 L1059.2 1313.6 L1060.7 1313.6 L1062.2 1313.6 L1063.7 1313.7 L1065.2 1313.7 L1066.7 1313.7 L1068.2 1313.7 L1069.7 1313.8 L1071.2 1313.8 L1072.7 1313.8 L1074.2 1313.8 L1075.7 1313.8 L1077.2 1313.8 L1078.7 1313.9 L1080.2 1313.9 L1081.7 1313.9 L1083.2 1313.9 L1084.7 1313.9 L1086.2 1313.9 L1087.7 1314.0 L1089.2 1314.0 L1090.7 1314.0 L1092.2 1314.0 L1093.7 1314.0 L1095.2 1314.0 L1096.7 1314.0 L1098.2 1314.0 L1099.7 1314.0 L1101.2 1314.1 L1102.7 1314.1 L1104.2 1314.1 L1105.7 1314.1 L1107.2 1314.1 L1108.7 1314.1 L1110.2 1314.1 L1111.7 1314.1 L1113.2 1314.1 L1114.7 1314.1 L1116.2 1314.1 L1117.7 1314.1 L1119.2 1314.1 L1120.7 1314.1 L1122.2 1314.1 L1123.7 1314.1 L1125.2 1314.1 L1126.7 1314.1 L1128.2 1314.1 L1129.7 1314.1 L1131.2 1314.1 L1132.7 1314.1 L1134.2 1314.1 L1135.7 1314.1 L1137.2 1314.1 L1138.7 1314.1 L1140.2 1314.1 L1141.7 1314.0 L1143.2 1314.0 L1144.7 1314.0 L1146.2 1314.0 L1147.7 1314.0 L1149.2 1314.0 L1150.7 1313.9 L1152.2 1313.9 L1153.7 1313.9 L1155.2 1313.9 L1156.7 1313.9 L1158.2 1313.8 L1159.7 1313.8 L1161.2 1313.8 L1162.7 1313.7 L1164.2 1313.7 L1165.7 1313.7 L1167.2 1313.7 L1168.7 1313.6 L1170.2 1313.6 L1171.7 1313.6 L1173.2 1313.5 L1174.7 1313.5 L1176.2 1313.4 L1177.7 1313.4 L1179.2 1313.4 L1180.7 1313.3 L1182.2 1313.3 L1183.7 1313.2 L1185.2 1313.2 L1186.7 1313.1 L1188.2 1313.1 L1189.7 1313.1 L1191.2 1313.0 L1192.7 1313.0 L1194.2 1312.9 L1195.7 1312.9 L1197.2 1312.8 L1198.7 1312.7 L1200.2 1312.7 L1201.7 1312.6 L1203.2 1312.6 L1204.7 1312.5 L1206.2 1312.4 L1207.7 1312.4 L1209.2 1312.3 L1210.7 1312.3 L1212.2 1312.2 L1213.7 1312.1 L1215.2 1312.1 L1216.7 1312.0 L1218.2 1311.9 L1219.7 1311.8 L1221.2 1311.8 L1222.7 1311.7 L1224.2 1311.6 L1225.7 1311.5 L1227.2 1311.5 L1228.7 1311.4 L1230.2 1311.3 L1231.7 1311.2 L1233.2 1311.1 L1234.7 1311.1 L1236.2 1311.0 L1237.7 1310.9 L1239.2 1310.8 L1240.7 1310.7 L1242.2 1310.7 L1243.7 1310.6 L1245.2 1310.5 L1246.7 1310.4 L1248.2 1310.3 L1249.7 1310.2 L1251.2 1310.1 L1252.7 1310.0 L1254.2 1309.9 L1255.7 1309.9 L1257.2 1309.8 L1258.7 1309.7 L1260.2 1309.6 L1261.7 1309.5 L1263.2 1309.4 L1264.7 1309.3 L1266.2 1309.2 L1267.7 1309.1 L1269.1 1309.0 L1270.6 1308.9 L1272.1 1308.8 L1273.6 1308.7 L1275.1 1308.6 L1276.6 1308.4 L1278.1 1308.3 L1279.6 1308.1 L1281.1 1308.0 L1282.6 1307.8 L1284.1 1307.6 L1285.6 1307.4 L1287.1 1307.2 L1288.5 1307.0 L1290.0 1306.8 L1291.5 1306.6 L1293.0 1306.4 L1294.5 1306.2 L1296.0 1305.9 L1297.4 1305.7 L1298.9 1305.5 L1300.4 1305.2 L1301.9 1305.0 L1303.4 1304.8 L1304.9 1304.6 L1306.4 1304.4 L1307.8 1304.2 L1309.3 1304.0 L1310.8 1303.8 L1312.3 1303.6 L1313.8 1303.5 L1315.3 1303.3 L1316.8 1303.1 L1318.3 1302.9 L1319.7 1302.7 L1321.2 1302.4 L1322.6 1301.9 L1324.0 1301.4 L1325.3 1300.7 L1326.6 1299.9 L1327.9 1299.1 L1329.2 1298.5 L1330.7 1298.2 L1332.1 1298.3 L1333.5 1298.8 L1334.9 1299.4 L1336.3 1300.0 L1337.7 1300.4 L1339.1 1300.6 L1340.6 1300.5 L1342.1 1300.2 L1343.5 1299.8 L1345.0 1299.3 L1346.4 1298.9 L1347.8 1298.4 L1349.3 1298.0 L1350.7 1297.7 L1352.2 1297.3 L1353.6 1297.0 L1355.1 1296.7 L1356.6 1296.3 L1358.0 1296.0 L1359.5 1295.7 L1361.0 1295.3 L1362.4 1295.0 L1363.4 1294.8"/>
<path class="crv" stroke="#000080" d="M105.9 1395.0 L105.9 1718.0 L106.8 1763.6 L107.6 1775.0 L107.7 1773.5 L107.9 1772.0 L108.0 1770.5 L108.2 1769.0 L108.3 1767.5 L108.5 1766.0 L108.6 1764.5 L108.8 1763.1 L108.9 1761.6 L109.1 1760.1 L109.2 1758.6 L109.4 1757.1 L109.5 1755.6 L109.7 1754.1 L109.8 1752.6 L109.9 1751.1 L110.1 1749.6 L110.2 1748.1 L110.4 1746.6 L110.5 1745.1 L110.7 1743.6 L110.8 1742.2 L111.0 1740.7 L111.1 1739.2 L111.2 1737.7 L111.4 1736.2 L111.5 1734.7 L111.7 1733.2 L111.8 1731.7 L112.0 1730.2 L112.1 1728.7 L112.2 1727.2 L112.4 1725.7 L112.5 1724.2 L112.7 1722.7 L112.8 1721.2 L113.0 1719.8 L113.1 1718.3 L113.2 1716.8 L113.4 1715.3 L113.5 1713.8 L113.7 1712.3 L113.8 1710.8 L113.9 1709.3 L114.1 1707.8 L114.2 1706.3 L114.3 1704.8 L114.5 1703.3 L114.6 1701.8 L114.7 1700.3 L114.9 1698.8 L115.0 1697.3 L115.1 1695.8 L115.3 1694.4 L115.4 1692.9 L115.5 1691.4 L115.6 1689.9 L115.8 1688.4 L115.9 1686.9 L116.0 1685.4 L116.1 1683.9 L116.2 1682.4 L116.3 1680.9 L116.4 1679.4 L116.5 1677.9 L116.7 1676.4 L116.8 1674.9 L116.9 1673.4 L117.0 1671.9 L117.1 1670.4 L117.2 1668.9 L117.4 1667.4 L117.5 1665.9 L117.6 1664.4 L117.7 1662.9 L117.9 1661.5 L118.0 1660.0 L118.1 1658.5 L118.2 1657.0 L118.4 1655.5 L118.5 1654.0 L118.6 1652.5 L118.8 1651.0 L118.9 1649.5 L119.0 1648.0 L119.2 1646.5 L119.3 1645.0 L119.4 1643.5 L119.6 1642.0 L119.7 1640.5 L119.8 1639.0 L119.9 1637.5 L120.1 1636.0 L120.2 1634.6 L120.4 1633.1 L120.5 1631.6 L120.7 1630.1 L120.9 1628.6 L121.1 1627.1 L121.4 1625.6 L121.6 1624.1 L121.9 1622.7 L122.1 1621.2 L122.4 1619.7 L122.6 1618.2 L122.8 1616.7 L123.1 1615.3 L123.3 1613.8 L123.6 1612.3 L123.8 1610.8 L124.1 1609.4 L124.4 1607.9 L124.7 1606.4 L125.0 1604.9 L125.3 1603.5 L125.7 1602.0 L126.0 1600.6 L126.4 1599.1 L126.8 1597.7 L127.3 1596.2 L127.8 1594.8 L128.4 1593.5 L129.0 1592.1 L129.8 1590.8 L130.6 1589.6 L131.5 1588.4 L132.4 1587.2 L133.5 1586.2 L134.6 1585.2 L135.7 1584.2 L137.0 1583.4 L138.2 1582.6 L139.5 1581.9 L140.9 1581.2 L142.2 1580.6 L143.6 1580.0 L145.0 1579.4 L146.4 1578.8 L147.8 1578.2 L149.2 1577.7 L150.6 1577.2 L152.0 1576.7 L153.4 1576.3 L154.9 1575.9 L156.3 1575.5 L157.8 1575.2 L159.3 1574.9 L160.7 1574.6 L162.2 1574.3 L163.7 1574.0 L165.1 1573.8 L166.6 1573.5 L168.1 1573.2 L169.6 1573.0 L171.1 1572.8 L172.5 1572.5 L174.0 1572.3 L175.5 1572.1 L177.0 1571.9 L178.5 1571.7 L180.0 1571.5 L181.5 1571.3 L183.0 1571.1 L184.4 1570.9 L185.9 1570.8 L187.4 1570.6 L188.9 1570.5 L190.4 1570.4 L191.9 1570.2 L193.4 1570.1 L194.9 1569.9 L196.4 1569.8 L197.9 1569.6 L199.4 1569.5 L200.9 1569.3 L202.3 1569.1 L203.8 1568.9 L205.3 1568.7 L206.8 1568.5 L208.3 1568.3 L209.8 1568.1 L211.3 1567.9 L212.8 1567.7 L214.2 1567.6 L215.7 1567.4 L217.2 1567.2 L218.7 1567.0 L220.2 1566.8 L221.7 1566.7 L223.2 1566.5 L224.7 1566.3 L226.2 1566.1 L227.7 1566.0 L229.1 1565.8 L230.6 1565.6 L232.1 1565.5 L233.6 1565.3 L235.1 1565.1 L236.6 1565.0 L238.1 1564.8 L239.6 1564.7 L241.1 1564.5 L242.6 1564.4 L244.1 1564.2 L245.6 1564.0 L247.1 1563.9 L248.5 1563.8 L250.0 1563.6 L251.5 1563.5 L253.0 1563.3 L254.5 1563.2 L256.0 1563.1 L257.5 1562.9 L259.0 1562.8 L260.5 1562.7 L262.0 1562.6 L263.5 1562.5 L265.0 1562.4 L266.5 1562.3 L268.0 1562.2 L269.5 1562.1 L271.0 1562.0 L272.5 1561.9 L274.0 1561.8 L275.5 1561.7 L277.0 1561.7 L278.5 1561.6 L280.0 1561.5 L281.5 1561.4 L283.0 1561.4 L284.5 1561.3 L286.0 1561.2 L287.5 1561.2 L289.0 1561.1 L290.5 1561.1 L292.0 1561.0 L293.5 1560.9 L295.0 1560.9 L296.5 1560.8 L298.0 1560.8 L299.4 1560.7 L300.9 1560.6 L302.4 1560.6 L303.9 1560.5 L305.4 1560.5 L306.9 1560.4 L308.4 1560.3 L309.9 1560.3 L311.4 1560.2 L312.9 1560.2 L314.4 1560.1 L315.9 1560.0 L317.4 1560.0 L318.9 1559.9 L320.4 1559.9 L321.9 1559.8 L323.4 1559.8 L324.9 1559.7 L326.4 1559.6 L327.9 1559.6 L329.4 1559.5 L330.9 1559.5 L332.4 1559.4 L333.9 1559.4 L335.4 1559.3 L336.9 1559.3 L338.4 1559.2 L339.9 1559.2 L341.4 1559.2 L342.9 1559.1 L344.4 1559.1 L345.9 1559.0 L347.4 1559.0 L348.9 1559.0 L350.4 1558.9 L351.9 1558.9 L353.4 1558.9 L354.9 1558.8 L356.4 1558.8 L357.9 1558.8 L359.4 1558.8 L360.9 1558.8 L362.4 1558.7 L363.9 1558.7 L365.4 1558.7 L366.9 1558.7 L368.4 1558.7 L369.9 1558.6 L371.4 1558.6 L372.9 1558.6 L374.4 1558.6 L375.9 1558.6 L377.4 1558.6 L378.9 1558.5 L380.4 1558.5 L381.9 1558.5 L383.4 1558.5 L384.9 1558.5 L386.4 1558.5 L387.9 1558.4 L389.4 1558.4 L390.9 1558.4 L392.4 1558.4 L393.9 1558.3 L395.4 1558.3 L396.9 1558.3 L398.4 1558.3 L399.9 1558.2 L401.4 1558.2 L402.9 1558.2 L404.4 1558.2 L405.9 1558.1 L407.4 1558.1 L408.9 1558.1 L410.4 1558.1 L411.9 1558.0 L413.4 1558.0 L414.9 1558.0 L416.4 1558.0 L417.9 1557.9 L419.4 1557.9 L420.9 1557.9 L422.4 1557.9 L423.9 1557.8 L425.4 1557.8 L426.9 1557.8 L428.4 1557.8 L429.9 1557.7 L431.4 1557.7 L432.9 1557.7 L434.4 1557.7 L435.9 1557.7 L437.4 1557.7 L438.9 1557.6 L440.4 1557.6 L441.9 1557.6 L443.4 1557.6 L444.9 1557.6 L446.4 1557.6 L447.9 1557.6 L449.4 1557.6 L450.9 1557.6 L452.4 1557.6 L453.9 1557.6 L455.4 1557.5 L456.9 1557.5 L458.4 1557.5 L459.9 1557.5 L461.4 1557.5 L462.9 1557.5 L464.4 1557.5 L465.9 1557.5 L467.4 1557.5 L468.9 1557.5 L470.4 1557.5 L471.9 1557.5 L473.4 1557.4 L474.9 1557.4 L476.4 1557.4 L477.9 1557.4 L479.4 1557.4 L480.9 1557.4 L482.4 1557.3 L483.9 1557.3 L485.4 1557.3 L486.9 1557.3 L488.4 1557.2 L489.9 1557.2 L491.4 1557.2 L492.9 1557.1 L494.4 1557.1 L495.9 1557.1 L497.4 1557.0 L498.9 1557.0 L500.4 1556.9 L501.9 1556.9 L503.4 1556.9 L504.9 1556.8 L506.4 1556.8 L507.9 1556.7 L509.4 1556.6 L510.9 1556.6 L512.4 1556.5 L513.9 1556.4 L515.4 1556.4 L516.9 1556.3 L518.4 1556.2 L519.9 1556.1 L521.4 1556.0 L522.9 1555.9 L524.4 1555.8 L525.9 1555.6 L527.4 1555.5 L528.9 1555.4 L530.4 1555.3 L531.9 1555.1 L533.4 1555.0 L534.9 1554.8 L536.4 1554.7 L537.8 1554.6 L539.3 1554.4 L540.8 1554.3 L542.3 1554.1 L543.8 1553.9 L545.3 1553.8 L546.8 1553.6 L548.3 1553.4 L549.8 1553.2 L551.3 1553.1 L552.8 1552.9 L554.2 1552.7 L555.7 1552.5 L557.2 1552.3 L558.7 1552.1 L560.2 1551.9 L561.7 1551.7 L563.2 1551.5 L564.6 1551.3 L566.1 1551.1 L567.6 1550.8 L569.1 1550.6 L570.6 1550.4 L572.1 1550.1 L573.5 1549.9 L575.0 1549.7 L576.5 1549.4 L578.0 1549.2 L579.5 1548.9 L580.9 1548.7 L582.4 1548.4 L583.9 1548.1 L585.4 1547.9 L586.8 1547.6 L588.3 1547.3 L589.8 1547.1 L591.3 1546.8 L592.7 1546.5 L594.2 1546.2 L595.7 1545.9 L597.2 1545.6 L598.6 1545.3 L600.1 1545.0 L601.6 1544.7 L603.0 1544.4 L604.5 1544.1 L606.0 1543.7 L607.4 1543.4 L608.9 1543.1 L610.3 1542.7 L611.8 1542.4 L613.3 1542.0 L614.7 1541.6 L616.2 1541.2 L617.6 1540.9 L619.1 1540.5 L620.5 1540.1 L621.9 1539.7 L623.4 1539.2 L624.8 1538.8 L626.3 1538.4 L627.7 1538.0 L629.2 1537.6 L630.6 1537.2 L632.0 1536.8 L633.5 1536.4 L634.9 1536.0 L636.4 1535.6 L637.8 1535.2 L639.3 1534.9 L640.7 1534.5 L642.2 1534.1 L643.7 1533.7 L645.1 1533.4 L646.6 1533.0 L648.0 1532.6 L649.5 1532.3 L650.9 1531.9 L652.4 1531.5 L653.8 1531.2 L655.3 1530.9 L656.8 1530.5 L658.2 1530.2 L659.7 1529.9 L661.2 1529.6 L662.7 1529.4 L664.1 1529.1 L665.6 1528.9 L667.1 1528.6 L668.6 1528.4 L670.1 1528.2 L671.5 1528.0 L673.0 1527.8 L674.5 1527.6 L676.0 1527.4 L677.5 1527.3 L679.0 1527.1 L680.5 1527.0 L682.0 1526.9 L683.5 1526.8 L685.0 1526.7 L686.5 1526.6 L688.0 1526.5 L689.5 1526.5 L691.0 1526.4 L692.5 1526.4 L694.0 1526.4 L695.5 1526.4 L697.0 1526.4 L698.5 1526.4 L700.0 1526.4 L701.5 1526.5 L703.0 1526.5 L704.5 1526.5 L706.0 1526.6 L707.5 1526.6 L709.0 1526.7 L710.5 1526.8 L712.0 1526.9 L713.5 1526.9 L715.0 1527.0 L716.5 1527.1 L718.0 1527.2 L719.5 1527.3 L720.9 1527.5 L722.4 1527.6 L723.9 1527.7 L725.4 1527.8 L726.9 1527.9 L728.4 1528.0 L729.9 1528.1 L731.4 1528.3 L732.9 1528.4 L734.4 1528.5 L735.9 1528.6 L737.4 1528.7 L738.9 1528.8 L740.4 1528.9 L741.9 1529.1 L743.4 1529.2 L744.9 1529.3 L746.4 1529.4 L747.9 1529.5 L749.4 1529.7 L750.9 1529.8 L752.4 1529.9 L753.9 1530.0 L755.3 1530.1 L756.8 1530.3 L758.3 1530.4 L759.8 1530.5 L761.3 1530.6 L762.8 1530.8 L764.3 1530.9 L765.8 1531.0 L767.3 1531.1 L768.8 1531.2 L770.3 1531.4 L771.8 1531.5 L773.3 1531.6 L774.8 1531.7 L776.3 1531.8 L777.8 1531.9 L779.3 1532.0 L780.8 1532.1 L782.3 1532.2 L783.8 1532.3 L785.3 1532.4 L786.8 1532.5 L788.3 1532.6 L789.8 1532.7 L791.3 1532.8 L792.7 1532.9 L794.2 1533.0 L795.7 1533.1 L797.2 1533.2 L798.7 1533.3 L800.2 1533.4 L801.7 1533.5 L803.2 1533.6 L804.7 1533.7 L806.2 1533.8 L807.7 1533.8 L809.2 1533.9 L810.7 1534.0 L812.2 1534.1 L813.7 1534.2 L815.2 1534.3 L816.7 1534.3 L818.2 1534.4 L819.7 1534.5 L821.2 1534.6 L822.7 1534.7 L824.2 1534.7 L825.7 1534.8 L827.2 1534.9 L828.7 1535.0 L830.2 1535.0 L831.7 1535.1 L833.2 1535.2 L834.7 1535.3 L836.2 1535.3 L837.7 1535.4 L839.2 1535.5 L840.7 1535.5 L842.2 1535.6 L843.7 1535.7 L845.2 1535.7 L846.7 1535.8 L848.2 1535.9 L849.7 1535.9 L851.2 1536.0 L852.7 1536.1 L854.2 1536.1 L855.7 1536.2 L857.2 1536.3 L858.7 1536.3 L860.2 1536.4 L861.7 1536.5 L863.2 1536.5 L864.7 1536.6 L866.2 1536.7 L867.7 1536.7 L869.2 1536.8 L870.7 1536.9 L872.2 1536.9 L873.7 1537.0 L875.2 1537.1 L876.7 1537.1 L878.1 1537.2 L879.6 1537.3 L881.1 1537.4 L882.6 1537.4 L884.1 1537.5 L885.6 1537.6 L887.1 1537.7 L888.6 1537.7 L890.1 1537.8 L891.6 1537.9 L893.1 1538.0 L894.6 1538.1 L896.1 1538.1 L897.6 1538.2 L899.1 1538.3 L900.6 1538.4 L902.1 1538.5 L903.6 1538.6 L905.1 1538.6 L906.6 1538.7 L908.1 1538.8 L909.6 1538.9 L911.1 1539.0 L912.6 1539.0 L914.1 1539.1 L915.6 1539.2 L917.1 1539.3 L918.6 1539.3 L920.1 1539.4 L921.6 1539.5 L923.1 1539.6 L924.6 1539.6 L926.1 1539.7 L927.6 1539.8 L929.1 1539.8 L930.6 1539.9 L932.1 1539.9 L933.6 1540.0 L935.1 1540.1 L936.6 1540.1 L938.1 1540.2 L939.6 1540.2 L941.1 1540.3 L942.6 1540.3 L944.1 1540.4 L945.6 1540.4 L947.1 1540.4 L948.6 1540.5 L950.1 1540.5 L951.6 1540.6 L953.1 1540.6 L954.6 1540.6 L956.1 1540.7 L957.6 1540.7 L959.1 1540.7 L960.6 1540.8 L962.1 1540.8 L963.6 1540.8 L965.1 1540.9 L966.6 1540.9 L968.1 1540.9 L969.6 1541.0 L971.1 1541.0 L972.6 1541.0 L974.1 1541.1 L975.6 1541.1 L977.1 1541.1 L978.6 1541.1 L980.1 1541.2 L981.6 1541.2 L983.1 1541.2 L984.6 1541.3 L986.1 1541.3 L987.6 1541.3 L989.1 1541.3 L990.6 1541.4 L992.1 1541.4 L993.6 1541.4 L995.1 1541.4 L996.6 1541.5 L998.1 1541.5 L999.6 1541.5 L1001.1 1541.5 L1002.6 1541.6 L1004.1 1541.6 L1005.6 1541.6 L1007.1 1541.6 L1008.6 1541.6 L1010.1 1541.7 L1011.6 1541.7 L1013.1 1541.7 L1014.6 1541.7 L1016.1 1541.7 L1017.6 1541.7 L1019.1 1541.8 L1020.6 1541.8 L1022.1 1541.8 L1023.6 1541.8 L1025.1 1541.8 L1026.6 1541.9 L1028.1 1541.9 L1029.6 1541.9 L1031.1 1541.9 L1032.6 1542.0 L1034.1 1542.0 L1035.6 1542.0 L1037.1 1542.0 L1038.6 1542.1 L1040.1 1542.1 L1041.6 1542.1 L1043.1 1542.2 L1044.6 1542.2 L1046.1 1542.3 L1047.6 1542.3 L1049.1 1542.4 L1050.6 1542.5 L1052.1 1542.5 L1053.6 1542.6 L1055.1 1542.6 L1056.6 1542.7 L1058.1 1542.7 L1059.6 1542.8 L1061.1 1542.8 L1062.6 1542.8 L1064.1 1542.9 L1065.6 1542.9 L1067.1 1542.9 L1068.6 1542.9 L1070.1 1542.9 L1071.6 1542.8 L1073.1 1542.8 L1074.6 1542.8 L1076.1 1542.7 L1077.6 1542.7 L1079.1 1542.6 L1080.6 1542.5 L1082.1 1542.5 L1083.6 1542.4 L1085.1 1542.4 L1086.6 1542.3 L1088.1 1542.3 L1089.6 1542.2 L1091.1 1542.2 L1092.6 1542.1 L1094.1 1542.1 L1095.6 1542.1 L1097.1 1542.0 L1098.6 1542.0 L1100.1 1542.0 L1101.6 1541.9 L1103.1 1541.9 L1104.6 1541.9 L1106.1 1541.9 L1107.6 1541.9 L1109.1 1541.8 L1110.6 1541.8 L1112.1 1541.8 L1113.6 1541.8 L1115.1 1541.8 L1116.6 1541.7 L1118.1 1541.7 L1119.6 1541.7 L1121.1 1541.7 L1122.6 1541.7 L1124.1 1541.6 L1125.6 1541.6 L1127.1 1541.6 L1128.6 1541.6 L1130.1 1541.6 L1131.6 1541.5 L1133.1 1541.5 L1134.6 1541.5 L1136.1 1541.5 L1137.6 1541.5 L1139.1 1541.4 L1140.6 1541.4 L1142.1 1541.4 L1143.6 1541.4 L1145.1 1541.3 L1146.6 1541.3 L1148.1 1541.3 L1149.6 1541.2 L1151.1 1541.2 L1152.6 1541.2 L1154.1 1541.2 L1155.6 1541.1 L1157.1 1541.1 L1158.6 1541.1 L1160.1 1541.0 L1161.6 1541.0 L1163.1 1541.0 L1164.6 1541.0 L1166.1 1540.9 L1167.6 1540.9 L1169.1 1540.9 L1170.6 1540.8 L1172.1 1540.8 L1173.6 1540.8 L1175.1 1540.7 L1176.6 1540.7 L1178.1 1540.7 L1179.6 1540.6 L1181.1 1540.6 L1182.6 1540.5 L1184.1 1540.5 L1185.6 1540.5 L1187.1 1540.4 L1188.6 1540.4 L1190.1 1540.3 L1191.6 1540.3 L1193.1 1540.2 L1194.5 1540.2 L1196.0 1540.1 L1197.5 1540.1 L1199.0 1540.0 L1200.5 1540.0 L1202.0 1539.9 L1203.5 1539.9 L1205.0 1539.8 L1206.5 1539.8 L1208.0 1539.7 L1209.5 1539.6 L1211.0 1539.6 L1212.5 1539.5 L1214.0 1539.5 L1215.5 1539.4 L1217.0 1539.3 L1218.5 1539.3 L1220.0 1539.2 L1221.5 1539.1 L1223.0 1539.1 L1224.5 1539.0 L1226.0 1538.9 L1227.5 1538.9 L1229.0 1538.8 L1230.5 1538.7 L1232.0 1538.6 L1233.5 1538.5 L1235.0 1538.5 L1236.5 1538.4 L1238.0 1538.3 L1239.5 1538.2 L1241.0 1538.1 L1242.5 1538.0 L1244.0 1537.9 L1245.5 1537.8 L1247.0 1537.7 L1248.5 1537.6 L1250.0 1537.5 L1251.5 1537.4 L1253.0 1537.3 L1254.5 1537.2 L1256.0 1537.1 L1257.5 1537.0 L1259.0 1536.8 L1260.5 1536.7 L1262.0 1536.6 L1263.4 1536.5 L1264.9 1536.3 L1266.4 1536.2 L1267.9 1536.0 L1269.4 1535.9 L1270.9 1535.8 L1272.4 1535.6 L1273.9 1535.5 L1275.4 1535.3 L1276.9 1535.2 L1278.4 1535.0 L1279.9 1534.9 L1281.4 1534.7 L1282.9 1534.6 L1284.4 1534.4 L1285.8 1534.3 L1287.3 1534.1 L1288.8 1533.9 L1290.3 1533.8 L1291.8 1533.6 L1293.3 1533.5 L1294.8 1533.3 L1296.3 1533.1 L1297.8 1533.0 L1299.3 1532.8 L1300.8 1532.7 L1302.3 1532.5 L1303.7 1532.3 L1305.2 1532.2 L1306.7 1532.0 L1308.2 1531.8 L1309.7 1531.7 L1311.2 1531.5 L1312.7 1531.3 L1314.2 1531.1 L1315.7 1530.9 L1317.2 1530.8 L1318.6 1530.6 L1320.1 1530.4 L1321.6 1530.2 L1323.1 1530.0 L1324.6 1529.8 L1326.1 1529.6 L1327.6 1529.5 L1329.1 1529.3 L1330.6 1529.1 L1332.0 1528.9 L1333.5 1528.8 L1335.0 1528.6 L1336.5 1528.5 L1338.0 1528.3 L1339.5 1528.2 L1341.0 1528.0 L1342.5 1527.9 L1344.0 1527.7 L1345.5 1527.6 L1347.0 1527.4 L1348.5 1527.3 L1350.0 1527.2 L1351.5 1527.0 L1352.9 1526.9 L1354.4 1526.7 L1355.9 1526.6 L1357.4 1526.5 L1358.9 1526.3 L1360.4 1526.2 L1361.9 1526.0 L1363.4 1525.9"/>
</g>
<text class="tick" transform="translate(104.00 1779.40) scale(1.0000 1.0100)">-50</text>
<text class="tick" transform="translate(261.90 1779.40) scale(1.0000 1.0100)">-25</text>
<text class="tick" transform="translate(419.80 1779.40) scale(1.0000 1.0100)">0</text>
<text class="tick" transform="translate(577.70 1779.40) scale(1.0000 1.0100)">25</text>
<text class="tick" transform="translate(735.60 1779.40) scale(1.0000 1.0100)">50</text>
<text class="tick" transform="translate(893.50 1779.40) scale(1.0000 1.0100)">75</text>
<text class="tick" transform="translate(1051.40 1779.40) scale(1.0000 1.0100)">100</text>
<text class="tick" transform="translate(1209.30 1779.40) scale(1.0000 1.0100)">125</text>
<text class="tick" transform="translate(1367.20 1779.40) scale(1.0000 1.0100)">150</text>
<text class="ttl" style="font-size:60.90px" transform="translate(511.90 1832.70)"><tspan>Temperature(</tspan><tspan x="361.10" y="5.40" style="font-size:69.00px">°</tspan><tspan x="383.70" y="0.50" style="font-size:61.50px" textLength="47.08" lengthAdjust="spacingAndGlyphs">C</tspan><tspan x="426.20" y="0.00" style="font-size:60.90px" textLength="22.32" lengthAdjust="spacingAndGlyphs">)</tspan></text>
<text class="ttl" style="font-size:60.90px" transform="translate(61.40 1174.30) rotate(-90) scale(1.0000 1.0000)">Heat Flow Endo Up (mW)</text>
<text class="ann" transform="translate(320.50 182.80) scale(0.9970 1.0100)">-4.45</text>
<text class="ann" transform="translate(329.50 425.80) scale(0.9840 1.0100)">-4.73</text>
<text class="ann" transform="translate(501.40 680.90) scale(1.0060 1.0100)">25.20</text>
<text class="ann" transform="translate(501.40 929.10) scale(1.0000 1.0100)">24.08</text>
<text class="ann" transform="translate(551.30 1194.40) scale(1.0100 1.0100)">32.30</text>
<text class="ann" transform="translate(563.70 1454.40) scale(0.9900 1.0100)">34.82</text>
<line class="arr" x1="395.10" y1="275.70" x2="395.10" y2="226.50"/>
<polygon fill="#000" points="394.40,197.60 402.40,227.50 387.00,227.50"/>
<line class="arr" x1="398.80" y1="536.20" x2="396.50" y2="461.30"/>
<polygon fill="#000" points="395.20,433.20 404.10,462.30 388.70,462.30"/>
<line class="arr" x1="577.10" y1="779.30" x2="576.90" y2="725.50"/>
<polygon fill="#000" points="575.50,696.80 584.25,726.50 568.85,726.50"/>
<line class="arr" x1="577.10" y1="1030.50" x2="573.60" y2="961.80"/>
<polygon fill="#000" points="571.80,933.80 581.20,962.80 565.80,962.80"/>
<line class="arr" x1="615.50" y1="1300.30" x2="613.70" y2="1240.30"/>
<polygon fill="#000" points="611.50,1211.60 621.30,1241.30 605.90,1241.30"/>
<line class="arr" x1="637.10" y1="1539.40" x2="634.30" y2="1493.90"/>
<polygon fill="#000" points="631.60,1464.60 641.80,1494.90 626.40,1494.90"/>
<line x1="1382.50" y1="71.10" x2="1481.20" y2="71.10" stroke="#000000" stroke-width="8.50" stroke-linecap="round"/>
<text class="leg" transform="translate(1492.30 86.00) scale(0.9930 1.0000)">BHA-2344-HNIPU</text>
<line x1="1382.50" y1="127.22" x2="1481.20" y2="127.22" stroke="#ff0000" stroke-width="8.50" stroke-linecap="round"/>
<text class="leg" transform="translate(1492.30 142.12) scale(0.9930 1.0000)">BHA-2351-HNIPU</text>
<line x1="1382.50" y1="183.34" x2="1481.20" y2="183.34" stroke="#0000ff" stroke-width="8.50" stroke-linecap="round"/>
<text class="leg" transform="translate(1492.30 198.24) scale(0.9930 1.0000)">BHA-3444-HNIPU</text>
<line x1="1382.50" y1="239.46" x2="1481.20" y2="239.46" stroke="#ff00ff" stroke-width="8.50" stroke-linecap="round"/>
<text class="leg" transform="translate(1492.30 254.36) scale(0.9930 1.0000)">BHA-3451-HNIPU</text>
<line x1="1382.50" y1="295.58" x2="1481.20" y2="295.58" stroke="#008000" stroke-width="8.50" stroke-linecap="round"/>
<text class="leg" transform="translate(1492.30 310.48) scale(0.9930 1.0000)">BHA-4544-HNIPU</text>
<line x1="1382.50" y1="351.70" x2="1481.20" y2="351.70" stroke="#000080" stroke-width="8.50" stroke-linecap="round"/>
<text class="leg" transform="translate(1492.30 366.60) scale(0.9930 1.0000)">BHA-4551-HNIPU</text>
</svg>
</body>
</html>
